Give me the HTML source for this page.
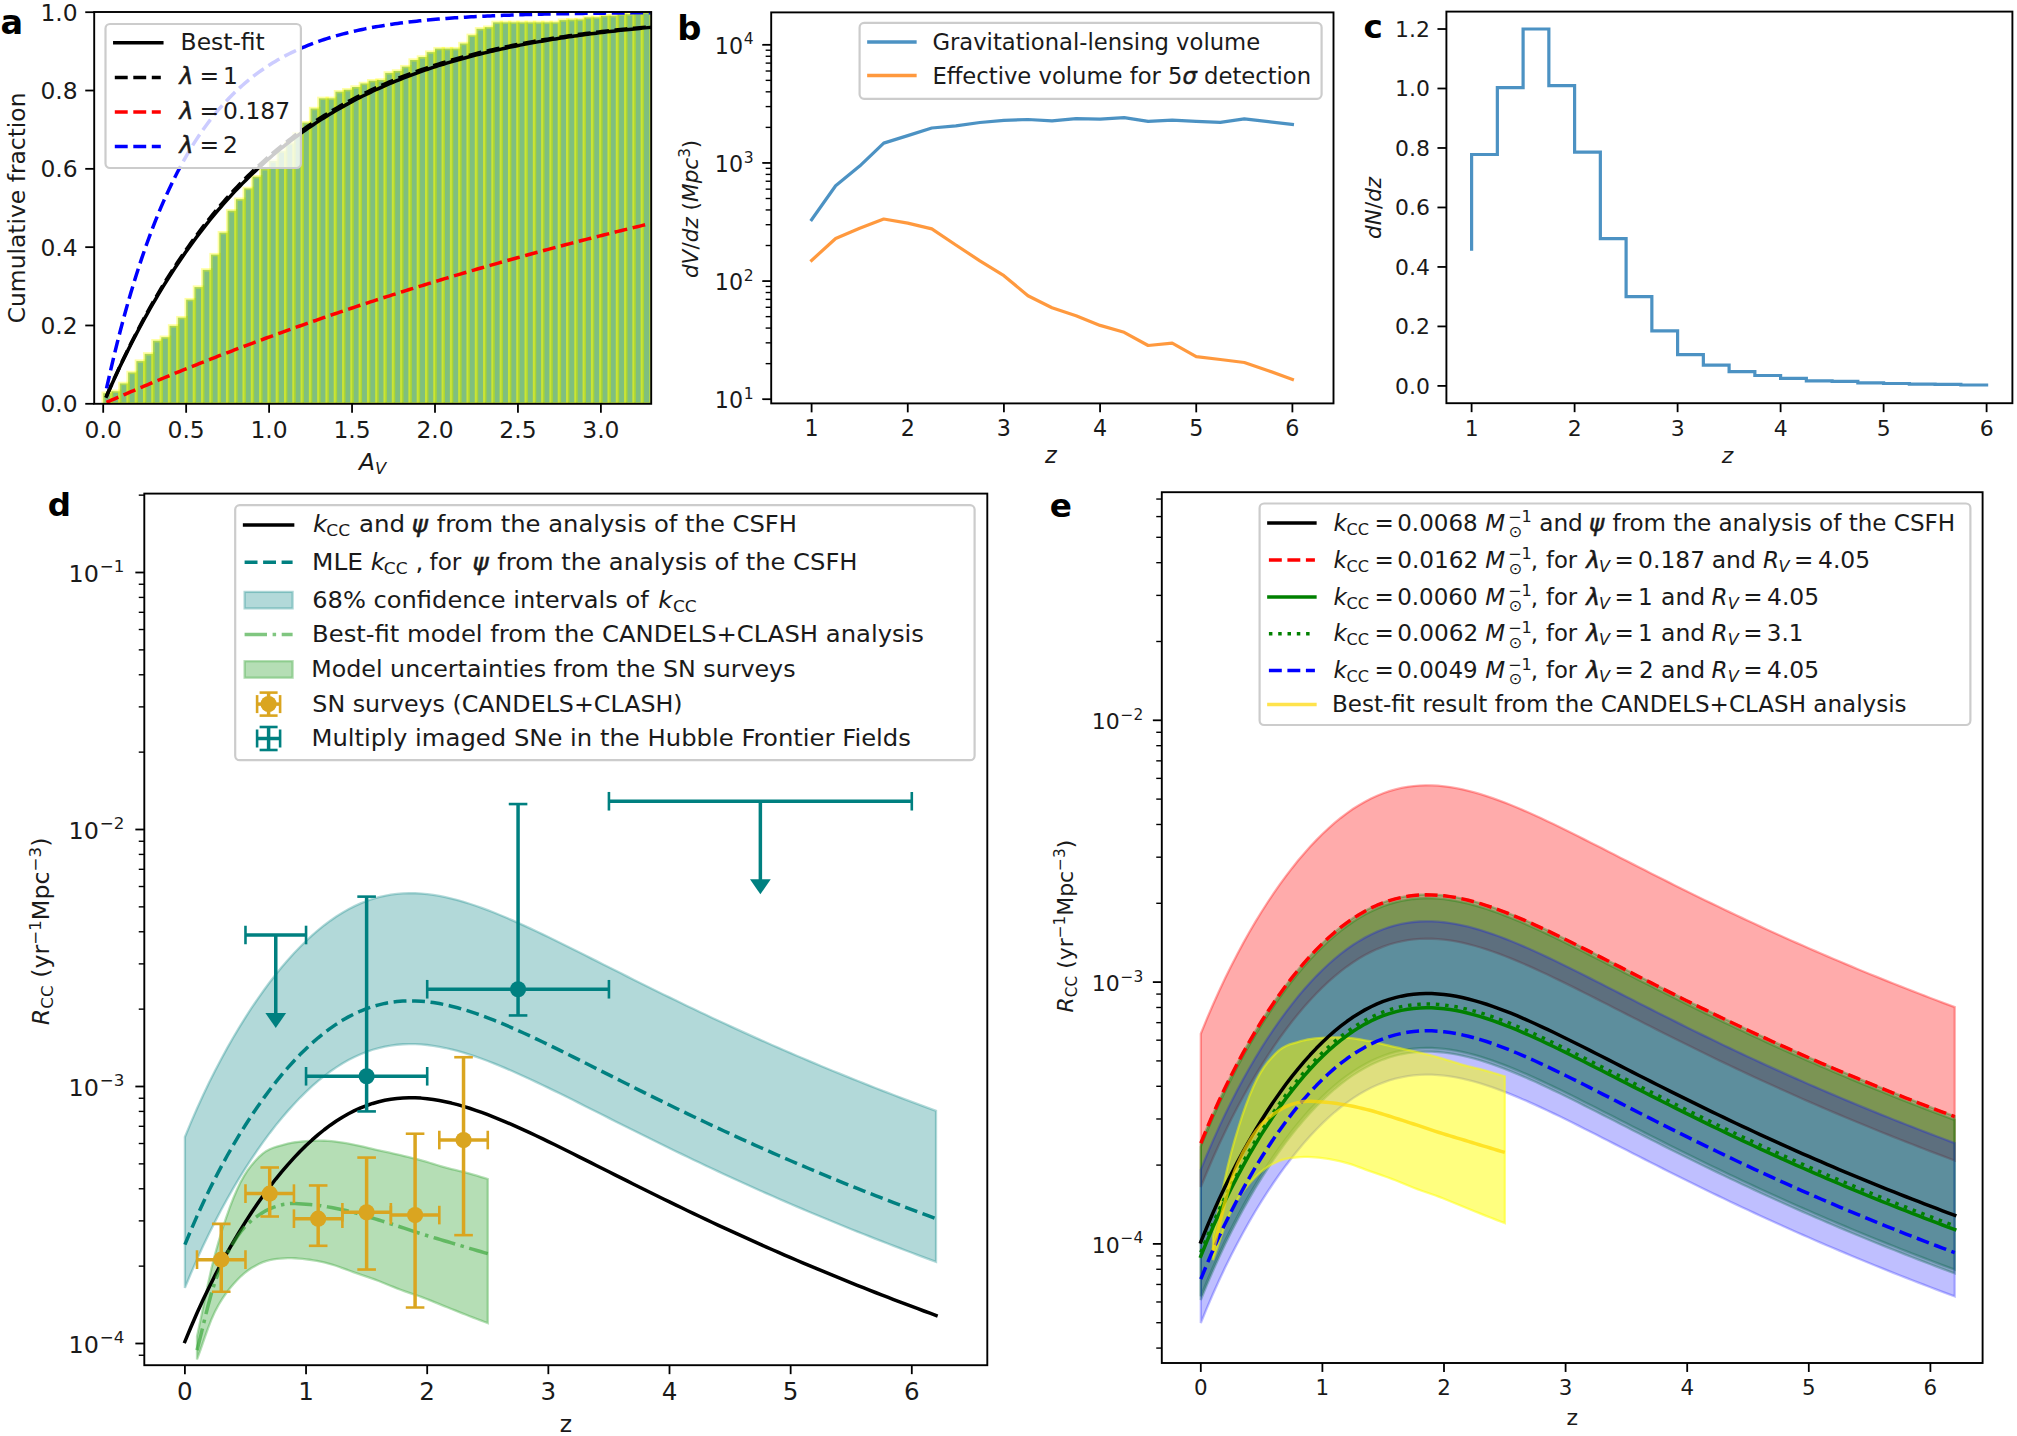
<!DOCTYPE html><html><head><meta charset="utf-8"><title>figure</title><style>html,body{margin:0;padding:0;background:#fff}svg{display:block}</style></head><body>
<svg width="2017" height="1436" viewBox="0 0 2017 1436" font-family='"DejaVu Sans","Liberation Sans",sans-serif'>
<rect width="2017" height="1436" fill="#fff"/>
<clipPath id="ca"><rect x="94.2" y="12" width="557" height="391.8"/></clipPath>
<g clip-path="url(#ca)">
<rect x="103.2" y="393.23" width="8.3" height="10.57" fill="#008000" fill-opacity="0.5" stroke="#ffff00" stroke-opacity="0.36" stroke-width="3.4"/>
<rect x="111.5" y="391.27" width="8.3" height="12.53" fill="#008000" fill-opacity="0.5" stroke="#ffff00" stroke-opacity="0.36" stroke-width="3.4"/>
<rect x="119.79" y="383.44" width="8.3" height="20.36" fill="#008000" fill-opacity="0.5" stroke="#ffff00" stroke-opacity="0.36" stroke-width="3.4"/>
<rect x="128.09" y="372.47" width="8.29" height="31.33" fill="#008000" fill-opacity="0.5" stroke="#ffff00" stroke-opacity="0.36" stroke-width="3.4"/>
<rect x="136.38" y="361.12" width="8.3" height="42.68" fill="#008000" fill-opacity="0.5" stroke="#ffff00" stroke-opacity="0.36" stroke-width="3.4"/>
<rect x="144.68" y="353.87" width="8.3" height="49.93" fill="#008000" fill-opacity="0.5" stroke="#ffff00" stroke-opacity="0.36" stroke-width="3.4"/>
<rect x="152.97" y="340.75" width="8.29" height="63.05" fill="#008000" fill-opacity="0.5" stroke="#ffff00" stroke-opacity="0.36" stroke-width="3.4"/>
<rect x="161.27" y="337.23" width="8.29" height="66.57" fill="#008000" fill-opacity="0.5" stroke="#ffff00" stroke-opacity="0.36" stroke-width="3.4"/>
<rect x="169.56" y="325.87" width="8.3" height="77.93" fill="#008000" fill-opacity="0.5" stroke="#ffff00" stroke-opacity="0.36" stroke-width="3.4"/>
<rect x="177.86" y="317.65" width="8.29" height="86.15" fill="#008000" fill-opacity="0.5" stroke="#ffff00" stroke-opacity="0.36" stroke-width="3.4"/>
<rect x="186.15" y="299.63" width="8.29" height="104.17" fill="#008000" fill-opacity="0.5" stroke="#ffff00" stroke-opacity="0.36" stroke-width="3.4"/>
<rect x="194.44" y="287.1" width="8.3" height="116.7" fill="#008000" fill-opacity="0.5" stroke="#ffff00" stroke-opacity="0.36" stroke-width="3.4"/>
<rect x="202.74" y="269.87" width="8.3" height="133.93" fill="#008000" fill-opacity="0.5" stroke="#ffff00" stroke-opacity="0.36" stroke-width="3.4"/>
<rect x="211.04" y="254.6" width="8.29" height="149.2" fill="#008000" fill-opacity="0.5" stroke="#ffff00" stroke-opacity="0.36" stroke-width="3.4"/>
<rect x="219.33" y="232.67" width="8.29" height="171.13" fill="#008000" fill-opacity="0.5" stroke="#ffff00" stroke-opacity="0.36" stroke-width="3.4"/>
<rect x="227.62" y="210.74" width="8.3" height="193.06" fill="#008000" fill-opacity="0.5" stroke="#ffff00" stroke-opacity="0.36" stroke-width="3.4"/>
<rect x="235.92" y="199.19" width="8.3" height="204.61" fill="#008000" fill-opacity="0.5" stroke="#ffff00" stroke-opacity="0.36" stroke-width="3.4"/>
<rect x="244.22" y="188.42" width="8.29" height="215.38" fill="#008000" fill-opacity="0.5" stroke="#ffff00" stroke-opacity="0.36" stroke-width="3.4"/>
<rect x="252.51" y="176.67" width="8.3" height="227.13" fill="#008000" fill-opacity="0.5" stroke="#ffff00" stroke-opacity="0.36" stroke-width="3.4"/>
<rect x="260.81" y="168.84" width="8.3" height="234.96" fill="#008000" fill-opacity="0.5" stroke="#ffff00" stroke-opacity="0.36" stroke-width="3.4"/>
<rect x="269.1" y="161.01" width="8.3" height="242.79" fill="#008000" fill-opacity="0.5" stroke="#ffff00" stroke-opacity="0.36" stroke-width="3.4"/>
<rect x="277.4" y="151.22" width="8.29" height="252.58" fill="#008000" fill-opacity="0.5" stroke="#ffff00" stroke-opacity="0.36" stroke-width="3.4"/>
<rect x="285.69" y="143.39" width="8.3" height="260.41" fill="#008000" fill-opacity="0.5" stroke="#ffff00" stroke-opacity="0.36" stroke-width="3.4"/>
<rect x="293.99" y="133.6" width="8.3" height="270.2" fill="#008000" fill-opacity="0.5" stroke="#ffff00" stroke-opacity="0.36" stroke-width="3.4"/>
<rect x="302.28" y="122.63" width="8.29" height="281.17" fill="#008000" fill-opacity="0.5" stroke="#ffff00" stroke-opacity="0.36" stroke-width="3.4"/>
<rect x="310.57" y="108.53" width="8.3" height="295.27" fill="#008000" fill-opacity="0.5" stroke="#ffff00" stroke-opacity="0.36" stroke-width="3.4"/>
<rect x="318.87" y="98.35" width="8.3" height="305.45" fill="#008000" fill-opacity="0.5" stroke="#ffff00" stroke-opacity="0.36" stroke-width="3.4"/>
<rect x="327.17" y="98.35" width="8.3" height="305.45" fill="#008000" fill-opacity="0.5" stroke="#ffff00" stroke-opacity="0.36" stroke-width="3.4"/>
<rect x="335.46" y="91.69" width="8.3" height="312.11" fill="#008000" fill-opacity="0.5" stroke="#ffff00" stroke-opacity="0.36" stroke-width="3.4"/>
<rect x="343.76" y="89.74" width="8.29" height="314.06" fill="#008000" fill-opacity="0.5" stroke="#ffff00" stroke-opacity="0.36" stroke-width="3.4"/>
<rect x="352.05" y="87" width="8.3" height="316.8" fill="#008000" fill-opacity="0.5" stroke="#ffff00" stroke-opacity="0.36" stroke-width="3.4"/>
<rect x="360.35" y="83.47" width="8.29" height="320.33" fill="#008000" fill-opacity="0.5" stroke="#ffff00" stroke-opacity="0.36" stroke-width="3.4"/>
<rect x="368.64" y="80.73" width="8.3" height="323.07" fill="#008000" fill-opacity="0.5" stroke="#ffff00" stroke-opacity="0.36" stroke-width="3.4"/>
<rect x="376.94" y="79.95" width="8.3" height="323.85" fill="#008000" fill-opacity="0.5" stroke="#ffff00" stroke-opacity="0.36" stroke-width="3.4"/>
<rect x="385.23" y="72.9" width="8.29" height="330.9" fill="#008000" fill-opacity="0.5" stroke="#ffff00" stroke-opacity="0.36" stroke-width="3.4"/>
<rect x="393.52" y="70.94" width="8.3" height="332.86" fill="#008000" fill-opacity="0.5" stroke="#ffff00" stroke-opacity="0.36" stroke-width="3.4"/>
<rect x="401.82" y="66.63" width="8.3" height="337.17" fill="#008000" fill-opacity="0.5" stroke="#ffff00" stroke-opacity="0.36" stroke-width="3.4"/>
<rect x="410.12" y="59.98" width="8.3" height="343.82" fill="#008000" fill-opacity="0.5" stroke="#ffff00" stroke-opacity="0.36" stroke-width="3.4"/>
<rect x="418.41" y="57.04" width="8.3" height="346.76" fill="#008000" fill-opacity="0.5" stroke="#ffff00" stroke-opacity="0.36" stroke-width="3.4"/>
<rect x="426.71" y="52.14" width="8.29" height="351.66" fill="#008000" fill-opacity="0.5" stroke="#ffff00" stroke-opacity="0.36" stroke-width="3.4"/>
<rect x="435" y="48.62" width="8.3" height="355.18" fill="#008000" fill-opacity="0.5" stroke="#ffff00" stroke-opacity="0.36" stroke-width="3.4"/>
<rect x="443.3" y="48.62" width="8.29" height="355.18" fill="#008000" fill-opacity="0.5" stroke="#ffff00" stroke-opacity="0.36" stroke-width="3.4"/>
<rect x="451.59" y="48.62" width="8.29" height="355.18" fill="#008000" fill-opacity="0.5" stroke="#ffff00" stroke-opacity="0.36" stroke-width="3.4"/>
<rect x="459.88" y="43.53" width="8.3" height="360.27" fill="#008000" fill-opacity="0.5" stroke="#ffff00" stroke-opacity="0.36" stroke-width="3.4"/>
<rect x="468.18" y="35.3" width="8.3" height="368.5" fill="#008000" fill-opacity="0.5" stroke="#ffff00" stroke-opacity="0.36" stroke-width="3.4"/>
<rect x="476.48" y="28.8" width="8.3" height="375" fill="#008000" fill-opacity="0.5" stroke="#ffff00" stroke-opacity="0.36" stroke-width="3.4"/>
<rect x="484.77" y="27.2" width="8.29" height="376.6" fill="#008000" fill-opacity="0.5" stroke="#ffff00" stroke-opacity="0.36" stroke-width="3.4"/>
<rect x="493.06" y="22.38" width="8.3" height="381.42" fill="#008000" fill-opacity="0.5" stroke="#ffff00" stroke-opacity="0.36" stroke-width="3.4"/>
<rect x="501.36" y="22.38" width="8.29" height="381.42" fill="#008000" fill-opacity="0.5" stroke="#ffff00" stroke-opacity="0.36" stroke-width="3.4"/>
<rect x="509.66" y="22.38" width="8.3" height="381.42" fill="#008000" fill-opacity="0.5" stroke="#ffff00" stroke-opacity="0.36" stroke-width="3.4"/>
<rect x="517.95" y="22.38" width="8.3" height="381.42" fill="#008000" fill-opacity="0.5" stroke="#ffff00" stroke-opacity="0.36" stroke-width="3.4"/>
<rect x="526.25" y="22.38" width="8.29" height="381.42" fill="#008000" fill-opacity="0.5" stroke="#ffff00" stroke-opacity="0.36" stroke-width="3.4"/>
<rect x="534.54" y="22.38" width="8.29" height="381.42" fill="#008000" fill-opacity="0.5" stroke="#ffff00" stroke-opacity="0.36" stroke-width="3.4"/>
<rect x="542.84" y="22.38" width="8.3" height="381.42" fill="#008000" fill-opacity="0.5" stroke="#ffff00" stroke-opacity="0.36" stroke-width="3.4"/>
<rect x="551.13" y="22.38" width="8.29" height="381.42" fill="#008000" fill-opacity="0.5" stroke="#ffff00" stroke-opacity="0.36" stroke-width="3.4"/>
<rect x="559.43" y="20.11" width="8.29" height="383.69" fill="#008000" fill-opacity="0.5" stroke="#ffff00" stroke-opacity="0.36" stroke-width="3.4"/>
<rect x="567.72" y="19.64" width="8.3" height="384.16" fill="#008000" fill-opacity="0.5" stroke="#ffff00" stroke-opacity="0.36" stroke-width="3.4"/>
<rect x="576.02" y="19.44" width="8.29" height="384.36" fill="#008000" fill-opacity="0.5" stroke="#ffff00" stroke-opacity="0.36" stroke-width="3.4"/>
<rect x="584.31" y="17.37" width="8.29" height="386.43" fill="#008000" fill-opacity="0.5" stroke="#ffff00" stroke-opacity="0.36" stroke-width="3.4"/>
<rect x="592.61" y="17.37" width="8.3" height="386.43" fill="#008000" fill-opacity="0.5" stroke="#ffff00" stroke-opacity="0.36" stroke-width="3.4"/>
<rect x="600.9" y="15.72" width="8.29" height="388.08" fill="#008000" fill-opacity="0.5" stroke="#ffff00" stroke-opacity="0.36" stroke-width="3.4"/>
<rect x="609.2" y="15.72" width="8.3" height="388.08" fill="#008000" fill-opacity="0.5" stroke="#ffff00" stroke-opacity="0.36" stroke-width="3.4"/>
<rect x="617.49" y="14.16" width="8.29" height="389.64" fill="#008000" fill-opacity="0.5" stroke="#ffff00" stroke-opacity="0.36" stroke-width="3.4"/>
<rect x="625.79" y="14.16" width="8.29" height="389.64" fill="#008000" fill-opacity="0.5" stroke="#ffff00" stroke-opacity="0.36" stroke-width="3.4"/>
<rect x="634.08" y="12.98" width="8.3" height="390.82" fill="#008000" fill-opacity="0.5" stroke="#ffff00" stroke-opacity="0.36" stroke-width="3.4"/>
<rect x="642.38" y="12.2" width="8.29" height="391.6" fill="#008000" fill-opacity="0.5" stroke="#ffff00" stroke-opacity="0.36" stroke-width="3.4"/>
<polyline fill="none" stroke="#000" stroke-width="3.5" stroke-linecap="square" stroke-linejoin="round"  points="106.52,396.16 109.24,390.01 111.96,383.95 114.68,378 117.4,372.14 120.12,366.37 122.84,360.69 125.56,355.11 128.28,349.61 131,344.21 133.73,338.89 136.45,333.65 139.17,328.5 141.89,323.43 144.61,318.44 147.33,313.54 150.05,308.71 152.77,303.96 155.49,299.28 158.21,294.68 160.93,290.16 163.65,285.7 166.37,281.32 169.1,277.01 171.82,272.76 174.54,268.59 177.26,264.48 179.98,260.44 182.7,256.46 185.42,252.54 188.14,248.69 190.86,244.9 193.58,241.18 196.3,237.51 199.02,233.9 201.74,230.34 204.47,226.85 207.19,223.41 209.91,220.02 212.63,216.69 215.35,213.42 218.07,210.19 220.79,207.02 223.51,203.9 226.23,200.83 228.95,197.8 231.67,194.83 234.39,191.9 237.11,189.02 239.84,186.19 242.56,183.4 245.28,180.66 248,177.96 250.72,175.3 253.44,172.69 256.16,170.12 258.88,167.59 261.6,165.1 264.32,162.65 267.04,160.24 269.76,157.86 272.48,155.53 275.21,153.23 277.93,150.97 280.65,148.75 283.37,146.56 286.09,144.41 288.81,142.29 291.53,140.2 294.25,138.15 296.97,136.14 299.69,134.15 302.41,132.2 305.13,130.27 307.85,128.38 310.57,126.52 313.3,124.69 316.02,122.88 318.74,121.11 321.46,119.37 324.18,117.65 326.9,115.96 329.62,114.3 332.34,112.66 335.06,111.05 337.78,109.47 340.5,107.91 343.22,106.37 345.94,104.86 348.67,103.38 351.39,101.92 354.11,100.48 356.83,99.07 359.55,97.67 362.27,96.3 364.99,94.96 367.71,93.63 370.43,92.33 373.15,91.04 375.87,89.78 378.59,88.54 381.31,87.31 384.04,86.11 386.76,84.92 389.48,83.76 392.2,82.61 394.92,81.48 397.64,80.37 400.36,79.28 403.08,78.21 405.8,77.15 408.52,76.11 411.24,75.08 413.96,74.08 416.68,73.08 419.41,72.11 422.13,71.15 424.85,70.2 427.57,69.28 430.29,68.36 433.01,67.46 435.73,66.58 438.45,65.7 441.17,64.85 443.89,64 446.61,63.17 449.33,62.36 452.05,61.55 454.78,60.76 457.5,59.98 460.22,59.22 462.94,58.46 465.66,57.72 468.38,56.99 471.1,56.28 473.82,55.57 476.54,54.87 479.26,54.19 481.98,53.52 484.7,52.86 487.42,52.2 490.15,51.56 492.87,50.93 495.59,50.31 498.31,49.7 501.03,49.1 503.75,48.51 506.47,47.93 509.19,47.35 511.91,46.79 514.63,46.24 517.35,45.69 520.07,45.15 522.79,44.63 525.52,44.11 528.24,43.6 530.96,43.09 533.68,42.6 536.4,42.11 539.12,41.63 541.84,41.16 544.56,40.7 547.28,40.24 550,39.79 552.72,39.35 555.44,38.91 558.16,38.48 560.88,38.06 563.61,37.65 566.33,37.24 569.05,36.84 571.77,36.44 574.49,36.06 577.21,35.67 579.93,35.3 582.65,34.93 585.37,34.56 588.09,34.21 590.81,33.85 593.53,33.51 596.25,33.16 598.98,32.83 601.7,32.5 604.42,32.17 607.14,31.85 609.86,31.54 612.58,31.23 615.3,30.92 618.02,30.62 620.74,30.33 623.46,30.04 626.18,29.75 628.9,29.47 631.62,29.19 634.35,28.92 637.07,28.65 639.79,28.39 642.51,28.13 645.23,27.87 647.95,27.62 650.67,27.38"/>
<polyline fill="none" stroke="#000" stroke-width="3.5" stroke-linecap="butt" stroke-linejoin="round" stroke-dasharray="12.9 5.6"  points="106.52,396.05 109.24,389.8 111.96,383.66 114.68,377.62 117.4,371.67 120.12,365.83 122.84,360.07 125.56,354.42 128.28,348.85 131,343.37 133.73,337.99 136.45,332.69 139.17,327.47 141.89,322.35 144.61,317.3 147.33,312.34 150.05,307.46 152.77,302.65 155.49,297.93 158.21,293.28 160.93,288.71 163.65,284.21 166.37,279.79 169.1,275.43 171.82,271.15 174.54,266.94 177.26,262.8 179.98,258.72 182.7,254.71 185.42,250.76 188.14,246.88 190.86,243.07 193.58,239.31 196.3,235.62 199.02,231.98 201.74,228.41 204.47,224.89 207.19,221.43 209.91,218.03 212.63,214.68 215.35,211.39 218.07,208.15 220.79,204.96 223.51,201.82 226.23,198.74 228.95,195.7 231.67,192.72 234.39,189.78 237.11,186.89 239.84,184.05 242.56,181.26 245.28,178.51 248,175.8 250.72,173.14 253.44,170.52 256.16,167.95 258.88,165.41 261.6,162.92 264.32,160.47 267.04,158.06 269.76,155.69 272.48,153.35 275.21,151.06 277.93,148.8 280.65,146.58 283.37,144.39 286.09,142.24 288.81,140.12 291.53,138.04 294.25,136 296.97,133.98 299.69,132 302.41,130.05 305.13,128.14 307.85,126.25 310.57,124.4 313.3,122.57 316.02,120.77 318.74,119.01 321.46,117.27 324.18,115.56 326.9,113.88 329.62,112.23 332.34,110.6 335.06,109 337.78,107.42 340.5,105.88 343.22,104.35 345.94,102.85 348.67,101.38 351.39,99.93 354.11,98.5 356.83,97.1 359.55,95.72 362.27,94.36 364.99,93.02 367.71,91.71 370.43,90.41 373.15,89.14 375.87,87.89 378.59,86.66 381.31,85.45 384.04,84.26 386.76,83.08 389.48,81.93 392.2,80.8 394.92,79.68 397.64,78.58 400.36,77.5 403.08,76.44 405.8,75.4 408.52,74.37 411.24,73.36 413.96,72.36 416.68,71.38 419.41,70.42 422.13,69.47 424.85,68.54 427.57,67.63 430.29,66.72 433.01,65.84 435.73,64.96 438.45,64.11 441.17,63.26 443.89,62.43 446.61,61.61 449.33,60.81 452.05,60.02 454.78,59.24 457.5,58.48 460.22,57.72 462.94,56.98 465.66,56.26 468.38,55.54 471.1,54.83 473.82,54.14 476.54,53.46 479.26,52.79 481.98,52.13 484.7,51.48 487.42,50.84 490.15,50.21 492.87,49.59 495.59,48.98 498.31,48.38 501.03,47.8 503.75,47.22 506.47,46.65 509.19,46.09 511.91,45.54 514.63,44.99 517.35,44.46 520.07,43.94 522.79,43.42 525.52,42.91 528.24,42.41 530.96,41.92 533.68,41.44 536.4,40.96 539.12,40.49 541.84,40.03 544.56,39.58 547.28,39.14 550,38.7 552.72,38.27 555.44,37.84 558.16,37.43 560.88,37.01 563.61,36.61 566.33,36.21 569.05,35.82 571.77,35.44 574.49,35.06 577.21,34.69 579.93,34.32 582.65,33.96 585.37,33.61 588.09,33.26 590.81,32.92 593.53,32.58 596.25,32.25 598.98,31.92 601.7,31.6 604.42,31.29 607.14,30.98 609.86,30.67 612.58,30.37 615.3,30.08 618.02,29.78 620.74,29.5 623.46,29.22 626.18,28.94 628.9,28.67 631.62,28.4 634.35,28.14 637.07,27.88 639.79,27.62 642.51,27.37 645.23,27.13 647.95,26.88 650.67,26.64"/>
<polyline fill="none" stroke="#ff0000" stroke-width="3.5" stroke-linecap="butt" stroke-linejoin="round" stroke-dasharray="12.9 5.6"  points="106.52,402.34 109.24,401.14 111.96,399.95 114.68,398.77 117.4,397.58 120.12,396.4 122.84,395.22 125.56,394.05 128.28,392.88 131,391.72 133.73,390.56 136.45,389.4 139.17,388.24 141.89,387.09 144.61,385.94 147.33,384.8 150.05,383.66 152.77,382.52 155.49,381.39 158.21,380.25 160.93,379.13 163.65,378 166.37,376.88 169.1,375.77 171.82,374.65 174.54,373.54 177.26,372.44 179.98,371.33 182.7,370.23 185.42,369.14 188.14,368.05 190.86,366.96 193.58,365.87 196.3,364.79 199.02,363.71 201.74,362.63 204.47,361.56 207.19,360.49 209.91,359.42 212.63,358.36 215.35,357.3 218.07,356.24 220.79,355.19 223.51,354.14 226.23,353.09 228.95,352.05 231.67,351.01 234.39,349.97 237.11,348.93 239.84,347.9 242.56,346.88 245.28,345.85 248,344.83 250.72,343.81 253.44,342.79 256.16,341.78 258.88,340.77 261.6,339.77 264.32,338.76 267.04,337.76 269.76,336.77 272.48,335.77 275.21,334.78 277.93,333.79 280.65,332.81 283.37,331.83 286.09,330.85 288.81,329.87 291.53,328.9 294.25,327.93 296.97,326.96 299.69,326 302.41,325.04 305.13,324.08 307.85,323.13 310.57,322.17 313.3,321.23 316.02,320.28 318.74,319.34 321.46,318.4 324.18,317.46 326.9,316.52 329.62,315.59 332.34,314.66 335.06,313.74 337.78,312.81 340.5,311.89 343.22,310.97 345.94,310.06 348.67,309.15 351.39,308.24 354.11,307.33 356.83,306.43 359.55,305.53 362.27,304.63 364.99,303.73 367.71,302.84 370.43,301.95 373.15,301.06 375.87,300.18 378.59,299.3 381.31,298.42 384.04,297.54 386.76,296.67 389.48,295.8 392.2,294.93 394.92,294.06 397.64,293.2 400.36,292.34 403.08,291.48 405.8,290.63 408.52,289.77 411.24,288.92 413.96,288.08 416.68,287.23 419.41,286.39 422.13,285.55 424.85,284.71 427.57,283.88 430.29,283.05 433.01,282.22 435.73,281.39 438.45,280.57 441.17,279.74 443.89,278.92 446.61,278.11 449.33,277.29 452.05,276.48 454.78,275.67 457.5,274.87 460.22,274.06 462.94,273.26 465.66,272.46 468.38,271.66 471.1,270.87 473.82,270.08 476.54,269.29 479.26,268.5 481.98,267.72 484.7,266.93 487.42,266.15 490.15,265.38 492.87,264.6 495.59,263.83 498.31,263.06 501.03,262.29 503.75,261.52 506.47,260.76 509.19,260 511.91,259.24 514.63,258.48 517.35,257.73 520.07,256.98 522.79,256.23 525.52,255.48 528.24,254.74 530.96,253.99 533.68,253.25 536.4,252.51 539.12,251.78 541.84,251.04 544.56,250.31 547.28,249.58 550,248.86 552.72,248.13 555.44,247.41 558.16,246.69 560.88,245.97 563.61,245.26 566.33,244.54 569.05,243.83 571.77,243.12 574.49,242.41 577.21,241.71 579.93,241.01 582.65,240.31 585.37,239.61 588.09,238.91 590.81,238.22 593.53,237.52 596.25,236.84 598.98,236.15 601.7,235.46 604.42,234.78 607.14,234.1 609.86,233.42 612.58,232.74 615.3,232.06 618.02,231.39 620.74,230.72 623.46,230.05 626.18,229.38 628.9,228.72 631.62,228.06 634.35,227.39 637.07,226.74 639.79,226.08 642.51,225.42 645.23,224.77 647.95,224.12 650.67,223.47"/>
<polyline fill="none" stroke="#0000ff" stroke-width="3.5" stroke-linecap="butt" stroke-linejoin="round" stroke-dasharray="12.9 5.6"  points="106.52,388.45 109.24,376.3 111.96,364.56 114.68,353.19 117.4,342.18 120.12,331.54 122.84,321.23 125.56,311.26 128.28,301.61 131,292.27 133.73,283.23 136.45,274.49 139.17,266.02 141.89,257.83 144.61,249.91 147.33,242.24 150.05,234.81 152.77,227.63 155.49,220.68 158.21,213.95 160.93,207.44 163.65,201.14 166.37,195.05 169.1,189.15 171.82,183.44 174.54,177.91 177.26,172.56 179.98,167.39 182.7,162.38 185.42,157.53 188.14,152.85 190.86,148.31 193.58,143.92 196.3,139.66 199.02,135.55 201.74,131.57 204.47,127.72 207.19,123.99 209.91,120.38 212.63,116.89 215.35,113.52 218.07,110.25 220.79,107.08 223.51,104.02 226.23,101.06 228.95,98.19 231.67,95.42 234.39,92.73 237.11,90.13 239.84,87.62 242.56,85.18 245.28,82.83 248,80.55 250.72,78.34 253.44,76.21 256.16,74.14 258.88,72.15 261.6,70.21 264.32,68.34 267.04,66.53 269.76,64.78 272.48,63.08 275.21,61.44 277.93,59.85 280.65,58.31 283.37,56.82 286.09,55.38 288.81,53.99 291.53,52.64 294.25,51.34 296.97,50.07 299.69,48.85 302.41,47.67 305.13,46.52 307.85,45.42 310.57,44.34 313.3,43.31 316.02,42.3 318.74,41.33 321.46,40.39 324.18,39.48 326.9,38.6 329.62,37.75 332.34,36.93 335.06,36.13 337.78,35.36 340.5,34.61 343.22,33.89 345.94,33.19 348.67,32.51 351.39,31.85 354.11,31.22 356.83,30.61 359.55,30.01 362.27,29.44 364.99,28.88 367.71,28.34 370.43,27.82 373.15,27.32 375.87,26.83 378.59,26.36 381.31,25.9 384.04,25.46 386.76,25.03 389.48,24.62 392.2,24.22 394.92,23.83 397.64,23.45 400.36,23.09 403.08,22.74 405.8,22.4 408.52,22.07 411.24,21.75 413.96,21.44 416.68,21.14 419.41,20.86 422.13,20.58 424.85,20.31 427.57,20.04 430.29,19.79 433.01,19.55 435.73,19.31 438.45,19.08 441.17,18.86 443.89,18.64 446.61,18.44 449.33,18.23 452.05,18.04 454.78,17.85 457.5,17.67 460.22,17.49 462.94,17.32 465.66,17.16 468.38,17 471.1,16.84 473.82,16.69 476.54,16.55 479.26,16.41 481.98,16.27 484.7,16.14 487.42,16.01 490.15,15.89 492.87,15.77 495.59,15.66 498.31,15.54 501.03,15.44 503.75,15.33 506.47,15.23 509.19,15.13 511.91,15.04 514.63,14.95 517.35,14.86 520.07,14.77 522.79,14.69 525.52,14.61 528.24,14.53 530.96,14.46 533.68,14.38 536.4,14.31 539.12,14.24 541.84,14.18 544.56,14.11 547.28,14.05 550,13.99 552.72,13.94 555.44,13.88 558.16,13.82 560.88,13.77 563.61,13.72 566.33,13.67 569.05,13.63 571.77,13.58 574.49,13.53 577.21,13.49 579.93,13.45 582.65,13.41 585.37,13.37 588.09,13.33 590.81,13.3 593.53,13.26 596.25,13.23 598.98,13.19 601.7,13.16 604.42,13.13 607.14,13.1 609.86,13.07 612.58,13.04 615.3,13.02 618.02,12.99 620.74,12.96 623.46,12.94 626.18,12.92 628.9,12.89 631.62,12.87 634.35,12.85 637.07,12.83 639.79,12.81 642.51,12.79 645.23,12.77 647.95,12.75 650.67,12.73"/>
</g>
<rect x="94.2" y="12" width="557" height="391.8" fill="none" stroke="#000" stroke-width="1.9"/>
<line x1="103.2" y1="403.8" x2="103.2" y2="412.75" stroke="#000" stroke-width="1.8" />
<text x="103.2" y="437.68" font-size="23.4" text-anchor="middle" fill="#1a1a1a" >0.0</text>
<line x1="186.15" y1="403.8" x2="186.15" y2="412.75" stroke="#000" stroke-width="1.8" />
<text x="186.15" y="437.68" font-size="23.4" text-anchor="middle" fill="#1a1a1a" >0.5</text>
<line x1="269.1" y1="403.8" x2="269.1" y2="412.75" stroke="#000" stroke-width="1.8" />
<text x="269.1" y="437.68" font-size="23.4" text-anchor="middle" fill="#1a1a1a" >1.0</text>
<line x1="352.05" y1="403.8" x2="352.05" y2="412.75" stroke="#000" stroke-width="1.8" />
<text x="352.05" y="437.68" font-size="23.4" text-anchor="middle" fill="#1a1a1a" >1.5</text>
<line x1="435" y1="403.8" x2="435" y2="412.75" stroke="#000" stroke-width="1.8" />
<text x="435" y="437.68" font-size="23.4" text-anchor="middle" fill="#1a1a1a" >2.0</text>
<line x1="517.95" y1="403.8" x2="517.95" y2="412.75" stroke="#000" stroke-width="1.8" />
<text x="517.95" y="437.68" font-size="23.4" text-anchor="middle" fill="#1a1a1a" >2.5</text>
<line x1="600.9" y1="403.8" x2="600.9" y2="412.75" stroke="#000" stroke-width="1.8" />
<text x="600.9" y="437.68" font-size="23.4" text-anchor="middle" fill="#1a1a1a" >3.0</text>
<line x1="85.25" y1="403.8" x2="94.2" y2="403.8" stroke="#000" stroke-width="1.8" />
<text x="77.7" y="412.34" font-size="23.4" text-anchor="end" fill="#1a1a1a" >0.0</text>
<line x1="85.25" y1="325.48" x2="94.2" y2="325.48" stroke="#000" stroke-width="1.8" />
<text x="77.7" y="334.02" font-size="23.4" text-anchor="end" fill="#1a1a1a" >0.2</text>
<line x1="85.25" y1="247.16" x2="94.2" y2="247.16" stroke="#000" stroke-width="1.8" />
<text x="77.7" y="255.7" font-size="23.4" text-anchor="end" fill="#1a1a1a" >0.4</text>
<line x1="85.25" y1="168.84" x2="94.2" y2="168.84" stroke="#000" stroke-width="1.8" />
<text x="77.7" y="177.38" font-size="23.4" text-anchor="end" fill="#1a1a1a" >0.6</text>
<line x1="85.25" y1="90.52" x2="94.2" y2="90.52" stroke="#000" stroke-width="1.8" />
<text x="77.7" y="99.06" font-size="23.4" text-anchor="end" fill="#1a1a1a" >0.8</text>
<line x1="85.25" y1="12.2" x2="94.2" y2="12.2" stroke="#000" stroke-width="1.8" />
<text x="77.7" y="20.74" font-size="23.4" text-anchor="end" fill="#1a1a1a" >1.0</text>
<text x="372.7" y="469.5" font-size="23.4" text-anchor="middle" fill="#1a1a1a"><tspan font-style="italic">A</tspan><tspan font-style="italic" font-size="16.38" dy="4">V</tspan></text>
<text transform="translate(25,207.9) rotate(-90)" font-size="23.4" text-anchor="middle" fill="#1a1a1a">Cumulative fraction</text>
<rect x="105.5" y="24" width="195.4" height="144" rx="4.5" ry="4.5" fill="#fff" fill-opacity="0.8" stroke="#ccc" stroke-width="2.2"/>
<line x1="114.8" y1="42.8" x2="161.8" y2="42.8" stroke="#000" stroke-width="3.5" stroke-linecap="square"/>
<line x1="114.8" y1="77.4" x2="160.8" y2="77.4" stroke="#000" stroke-width="3.5" stroke-dasharray="12.9 5.6"/>
<line x1="114.8" y1="112" x2="160.8" y2="112" stroke="#ff0000" stroke-width="3.5" stroke-dasharray="12.9 5.6"/>
<line x1="114.8" y1="146.6" x2="160.8" y2="146.6" stroke="#0000ff" stroke-width="3.5" stroke-dasharray="12.9 5.6"/>
<text x="180.6" y="49.7" font-size="23.4" text-anchor="start" fill="#1a1a1a" >Best-fit</text>
<text y="84.1" font-size="23.4" fill="#1a1a1a"><tspan x="179.5" font-style="italic" stroke="#1a1a1a" stroke-width="0.55">λ</tspan><tspan x="199.4">=</tspan><tspan x="223.1">1</tspan></text>
<text y="118.7" font-size="23.4" fill="#1a1a1a"><tspan x="179.5" font-style="italic" stroke="#1a1a1a" stroke-width="0.55">λ</tspan><tspan x="199.4">=</tspan><tspan x="223.1">0.187</tspan></text>
<text y="153.3" font-size="23.4" fill="#1a1a1a"><tspan x="179.5" font-style="italic" stroke="#1a1a1a" stroke-width="0.55">λ</tspan><tspan x="199.4">=</tspan><tspan x="223.1">2</tspan></text>
<text x="0.4" y="33.8" font-size="33.5" font-weight="bold" fill="#000">a</text>
<rect x="771.2" y="12.4" width="562.3" height="391" fill="none" stroke="#000" stroke-width="1.9"/>
<polyline fill="none" stroke="#1f77b4" stroke-width="3.2" stroke-linecap="square" stroke-linejoin="round" stroke-opacity="0.8"  points="811.6,219.7 835.64,185.8 859.68,166.1 883.72,143.1 907.76,135.6 931.8,128 955.84,125.8 979.88,122.5 1003.92,120.3 1027.96,119.5 1052,120.9 1076.04,118.7 1100.08,119.2 1124.12,117.6 1148.16,121.3 1172.2,120.2 1196.24,121.3 1220.28,122.4 1244.32,118.9 1268.36,121.7 1292.4,124.5"/>
<polyline fill="none" stroke="#ff7f0e" stroke-width="3.2" stroke-linecap="square" stroke-linejoin="round" stroke-opacity="0.8"  points="811.6,260.4 835.64,238.5 859.68,228.2 883.72,219 907.76,223.1 931.8,228.9 955.84,245 979.88,260.8 1003.92,275.7 1027.96,295.7 1052,307.7 1076.04,315.7 1100.08,325.4 1124.12,332.3 1148.16,345.5 1172.2,343.1 1196.24,356.7 1220.28,359.5 1244.32,362.5 1268.36,370.7 1292.4,379.4"/>
<line x1="811.6" y1="403.4" x2="811.6" y2="412.35" stroke="#000" stroke-width="1.8" />
<text x="811.6" y="436.37" font-size="22.2" text-anchor="middle" fill="#1a1a1a" >1</text>
<line x1="907.76" y1="403.4" x2="907.76" y2="412.35" stroke="#000" stroke-width="1.8" />
<text x="907.76" y="436.37" font-size="22.2" text-anchor="middle" fill="#1a1a1a" >2</text>
<line x1="1003.92" y1="403.4" x2="1003.92" y2="412.35" stroke="#000" stroke-width="1.8" />
<text x="1003.92" y="436.37" font-size="22.2" text-anchor="middle" fill="#1a1a1a" >3</text>
<line x1="1100.08" y1="403.4" x2="1100.08" y2="412.35" stroke="#000" stroke-width="1.8" />
<text x="1100.08" y="436.37" font-size="22.2" text-anchor="middle" fill="#1a1a1a" >4</text>
<line x1="1196.24" y1="403.4" x2="1196.24" y2="412.35" stroke="#000" stroke-width="1.8" />
<text x="1196.24" y="436.37" font-size="22.2" text-anchor="middle" fill="#1a1a1a" >5</text>
<line x1="1292.4" y1="403.4" x2="1292.4" y2="412.35" stroke="#000" stroke-width="1.8" />
<text x="1292.4" y="436.37" font-size="22.2" text-anchor="middle" fill="#1a1a1a" >6</text>
<line x1="762.25" y1="399.2" x2="771.2" y2="399.2" stroke="#000" stroke-width="1.8" />
<line x1="765.65" y1="363.64" x2="771.2" y2="363.64" stroke="#000" stroke-width="1.4" />
<line x1="765.65" y1="342.84" x2="771.2" y2="342.84" stroke="#000" stroke-width="1.4" />
<line x1="765.65" y1="328.08" x2="771.2" y2="328.08" stroke="#000" stroke-width="1.4" />
<line x1="765.65" y1="316.63" x2="771.2" y2="316.63" stroke="#000" stroke-width="1.4" />
<line x1="765.65" y1="307.28" x2="771.2" y2="307.28" stroke="#000" stroke-width="1.4" />
<line x1="765.65" y1="299.37" x2="771.2" y2="299.37" stroke="#000" stroke-width="1.4" />
<line x1="765.65" y1="292.52" x2="771.2" y2="292.52" stroke="#000" stroke-width="1.4" />
<line x1="765.65" y1="286.48" x2="771.2" y2="286.48" stroke="#000" stroke-width="1.4" />
<line x1="762.25" y1="281.07" x2="771.2" y2="281.07" stroke="#000" stroke-width="1.8" />
<line x1="765.65" y1="245.51" x2="771.2" y2="245.51" stroke="#000" stroke-width="1.4" />
<line x1="765.65" y1="224.71" x2="771.2" y2="224.71" stroke="#000" stroke-width="1.4" />
<line x1="765.65" y1="209.95" x2="771.2" y2="209.95" stroke="#000" stroke-width="1.4" />
<line x1="765.65" y1="198.5" x2="771.2" y2="198.5" stroke="#000" stroke-width="1.4" />
<line x1="765.65" y1="189.15" x2="771.2" y2="189.15" stroke="#000" stroke-width="1.4" />
<line x1="765.65" y1="181.24" x2="771.2" y2="181.24" stroke="#000" stroke-width="1.4" />
<line x1="765.65" y1="174.39" x2="771.2" y2="174.39" stroke="#000" stroke-width="1.4" />
<line x1="765.65" y1="168.35" x2="771.2" y2="168.35" stroke="#000" stroke-width="1.4" />
<line x1="762.25" y1="162.94" x2="771.2" y2="162.94" stroke="#000" stroke-width="1.8" />
<line x1="765.65" y1="127.38" x2="771.2" y2="127.38" stroke="#000" stroke-width="1.4" />
<line x1="765.65" y1="106.58" x2="771.2" y2="106.58" stroke="#000" stroke-width="1.4" />
<line x1="765.65" y1="91.82" x2="771.2" y2="91.82" stroke="#000" stroke-width="1.4" />
<line x1="765.65" y1="80.37" x2="771.2" y2="80.37" stroke="#000" stroke-width="1.4" />
<line x1="765.65" y1="71.02" x2="771.2" y2="71.02" stroke="#000" stroke-width="1.4" />
<line x1="765.65" y1="63.11" x2="771.2" y2="63.11" stroke="#000" stroke-width="1.4" />
<line x1="765.65" y1="56.26" x2="771.2" y2="56.26" stroke="#000" stroke-width="1.4" />
<line x1="765.65" y1="50.22" x2="771.2" y2="50.22" stroke="#000" stroke-width="1.4" />
<line x1="762.25" y1="44.81" x2="771.2" y2="44.81" stroke="#000" stroke-width="1.8" />
<text transform="translate(753.7,408.08) scale(1.0000,1)" font-size="22.2" text-anchor="end" fill="#1a1a1a">10<tspan font-size="15.54" dy="-9.32" dx="0.8">1</tspan></text>
<text transform="translate(753.7,289.95) scale(1.0000,1)" font-size="22.2" text-anchor="end" fill="#1a1a1a">10<tspan font-size="15.54" dy="-9.32" dx="0.8">2</tspan></text>
<text transform="translate(753.7,171.82) scale(1.0000,1)" font-size="22.2" text-anchor="end" fill="#1a1a1a">10<tspan font-size="15.54" dy="-9.32" dx="0.8">3</tspan></text>
<text transform="translate(753.7,53.69) scale(1.0000,1)" font-size="22.2" text-anchor="end" fill="#1a1a1a">10<tspan font-size="15.54" dy="-9.32" dx="0.8">4</tspan></text>
<text x="1050.85" y="463" font-size="22.3" text-anchor="middle" font-style="italic" fill="#1a1a1a">z</text>
<text transform="translate(697.5,208.9) rotate(-90)" font-size="21.6" text-anchor="middle" fill="#1a1a1a"><tspan font-style="italic">dV</tspan>/<tspan font-style="italic">dz</tspan> (<tspan font-style="italic">Mpc</tspan><tspan font-size="15.12" dy="-7.5">3</tspan><tspan dy="7.5">)</tspan></text>
<rect x="859.6" y="22.9" width="462" height="75.9" rx="4.5" ry="4.5" fill="#fff" fill-opacity="0.8" stroke="#ccc" stroke-width="2.2"/>
<line x1="868.9" y1="42.1" x2="914.9" y2="42.1" stroke="#1f77b4" stroke-width="3.5" stroke-opacity="0.8" stroke-linecap="square"/>
<line x1="868.9" y1="75.6" x2="914.9" y2="75.6" stroke="#ff7f0e" stroke-width="3.5" stroke-opacity="0.8" stroke-linecap="square"/>
<text transform="translate(932.4,50.3) scale(0.9690,1)" font-size="23.4" text-anchor="start" fill="#1a1a1a" >Gravitational-lensing volume</text>
<text transform="translate(932.4,83.8) scale(0.9690,1)" font-size="23.4" text-anchor="start" fill="#1a1a1a" >Effective volume for 5<tspan font-style="italic" stroke="#1a1a1a" stroke-width="0.55">σ</tspan> detection</text>
<text x="677.3" y="40.4" font-size="33.8" font-weight="bold" fill="#000">b</text>
<rect x="1446.4" y="11.6" width="566" height="391.6" fill="none" stroke="#000" stroke-width="1.9"/>
<polyline fill="none" stroke="#1f77b4" stroke-width="3.2" stroke-linecap="square" stroke-linejoin="miter" stroke-opacity="0.8"  points="1471.6,249.1 1471.6,154.52 1497.35,154.52 1497.35,87.61 1523.1,87.61 1523.1,29.02 1548.85,29.02 1548.85,85.53 1574.6,85.53 1574.6,152.14 1600.35,152.14 1600.35,238.69 1626.1,238.69 1626.1,296.68 1651.85,296.68 1651.85,330.88 1677.6,330.88 1677.6,354.67 1703.35,354.67 1703.35,365.08 1729.1,365.08 1729.1,371.62 1754.85,371.62 1754.85,375.49 1780.6,375.49 1780.6,378.46 1806.35,378.46 1806.35,380.84 1832.1,380.84 1832.1,381.44 1857.85,381.44 1857.85,382.93 1883.6,382.93 1883.6,383.52 1909.35,383.52 1909.35,384.12 1935.1,384.12 1935.1,384.41 1960.85,384.41 1960.85,385.01 1986.6,385.01"/>
<line x1="1471.6" y1="403.2" x2="1471.6" y2="412.15" stroke="#000" stroke-width="1.8" />
<text x="1471.6" y="435.94" font-size="21.9" text-anchor="middle" fill="#1a1a1a" >1</text>
<line x1="1574.6" y1="403.2" x2="1574.6" y2="412.15" stroke="#000" stroke-width="1.8" />
<text x="1574.6" y="435.94" font-size="21.9" text-anchor="middle" fill="#1a1a1a" >2</text>
<line x1="1677.6" y1="403.2" x2="1677.6" y2="412.15" stroke="#000" stroke-width="1.8" />
<text x="1677.6" y="435.94" font-size="21.9" text-anchor="middle" fill="#1a1a1a" >3</text>
<line x1="1780.6" y1="403.2" x2="1780.6" y2="412.15" stroke="#000" stroke-width="1.8" />
<text x="1780.6" y="435.94" font-size="21.9" text-anchor="middle" fill="#1a1a1a" >4</text>
<line x1="1883.6" y1="403.2" x2="1883.6" y2="412.15" stroke="#000" stroke-width="1.8" />
<text x="1883.6" y="435.94" font-size="21.9" text-anchor="middle" fill="#1a1a1a" >5</text>
<line x1="1986.6" y1="403.2" x2="1986.6" y2="412.15" stroke="#000" stroke-width="1.8" />
<text x="1986.6" y="435.94" font-size="21.9" text-anchor="middle" fill="#1a1a1a" >6</text>
<line x1="1437.45" y1="385.9" x2="1446.4" y2="385.9" stroke="#000" stroke-width="1.8" />
<text x="1429.9" y="393.89" font-size="21.9" text-anchor="end" fill="#1a1a1a" >0.0</text>
<line x1="1437.45" y1="326.42" x2="1446.4" y2="326.42" stroke="#000" stroke-width="1.8" />
<text x="1429.9" y="334.41" font-size="21.9" text-anchor="end" fill="#1a1a1a" >0.2</text>
<line x1="1437.45" y1="266.94" x2="1446.4" y2="266.94" stroke="#000" stroke-width="1.8" />
<text x="1429.9" y="274.93" font-size="21.9" text-anchor="end" fill="#1a1a1a" >0.4</text>
<line x1="1437.45" y1="207.46" x2="1446.4" y2="207.46" stroke="#000" stroke-width="1.8" />
<text x="1429.9" y="215.45" font-size="21.9" text-anchor="end" fill="#1a1a1a" >0.6</text>
<line x1="1437.45" y1="147.98" x2="1446.4" y2="147.98" stroke="#000" stroke-width="1.8" />
<text x="1429.9" y="155.97" font-size="21.9" text-anchor="end" fill="#1a1a1a" >0.8</text>
<line x1="1437.45" y1="88.5" x2="1446.4" y2="88.5" stroke="#000" stroke-width="1.8" />
<text x="1429.9" y="96.49" font-size="21.9" text-anchor="end" fill="#1a1a1a" >1.0</text>
<line x1="1437.45" y1="29.02" x2="1446.4" y2="29.02" stroke="#000" stroke-width="1.8" />
<text x="1429.9" y="37.01" font-size="21.9" text-anchor="end" fill="#1a1a1a" >1.2</text>
<text x="1727.4" y="463" font-size="21.9" text-anchor="middle" font-style="italic" fill="#1a1a1a">z</text>
<text transform="translate(1381,207.9) rotate(-90)" font-size="21.6" text-anchor="middle" fill="#1a1a1a"><tspan font-style="italic">dN</tspan>/<tspan font-style="italic">dz</tspan></text>
<text x="1363.6" y="38" font-size="32.5" font-weight="bold" fill="#000">c</text>
<rect x="144.3" y="493.6" width="843" height="871.6" fill="none" stroke="#000" stroke-width="1.9"/>
<clipPath id="cd"><rect x="144.3" y="493.6" width="843" height="871.6"/></clipPath>
<g clip-path="url(#cd)">
<polygon points="184.9,1137.04 190.96,1122.42 197.02,1108.52 203.07,1095.26 209.13,1082.6 215.19,1070.5 221.25,1058.92 227.3,1047.84 233.36,1037.23 239.42,1027.05 245.48,1017.31 251.53,1007.97 257.59,999.03 263.65,990.48 269.7,982.31 275.76,974.51 281.82,967.08 287.88,960.02 293.94,953.32 299.99,946.97 306.05,940.99 312.11,935.37 318.17,930.12 324.22,925.22 330.28,920.68 336.34,916.51 342.39,912.69 348.45,909.23 354.51,906.13 360.57,903.38 366.62,900.97 372.68,898.91 378.74,897.17 384.8,895.77 390.86,894.68 396.91,893.89 402.97,893.4 409.03,893.19 415.09,893.26 421.14,893.57 427.2,894.14 433.26,894.93 439.32,895.93 445.37,897.14 451.43,898.54 457.49,900.11 463.54,901.85 469.6,903.73 475.66,905.75 481.72,907.9 487.77,910.16 493.83,912.53 499.89,914.98 505.95,917.53 512,920.15 518.06,922.84 524.12,925.58 530.18,928.38 536.24,931.23 542.29,934.12 548.35,937.04 554.41,939.99 560.47,942.97 566.52,945.97 572.58,948.99 578.64,952.01 584.7,955.05 590.75,958.1 596.81,961.15 602.87,964.2 608.93,967.25 614.98,970.3 621.04,973.34 627.1,976.38 633.16,979.41 639.21,982.43 645.27,985.44 651.33,988.45 657.39,991.43 663.44,994.41 669.5,997.37 675.56,1000.32 681.62,1003.25 687.67,1006.17 693.73,1009.07 699.79,1011.95 705.85,1014.82 711.9,1017.67 717.96,1020.5 724.02,1023.32 730.08,1026.11 736.13,1028.89 742.19,1031.66 748.25,1034.4 754.31,1037.13 760.36,1039.84 766.42,1042.53 772.48,1045.2 778.54,1047.85 784.59,1050.49 790.65,1053.11 796.71,1055.71 802.76,1058.29 808.82,1060.86 814.88,1063.41 820.94,1065.94 827,1068.45 833.05,1070.95 839.11,1073.43 845.17,1075.89 851.23,1078.34 857.28,1080.77 863.34,1083.18 869.4,1085.58 875.46,1087.96 881.51,1090.33 887.57,1092.67 893.63,1095.01 899.69,1097.33 905.74,1099.63 911.8,1101.92 917.86,1104.19 923.91,1106.45 929.97,1108.69 936.03,1110.92 936.03,1261.78 929.97,1259.55 923.91,1257.31 917.86,1255.05 911.8,1252.77 905.74,1250.49 899.69,1248.18 893.63,1245.87 887.57,1243.53 881.51,1241.18 875.46,1238.82 869.4,1236.44 863.34,1234.04 857.28,1231.63 851.23,1229.2 845.17,1226.75 839.11,1224.29 833.05,1221.81 827,1219.31 820.94,1216.8 814.88,1214.27 808.82,1211.72 802.76,1209.15 796.71,1206.57 790.65,1203.97 784.59,1201.35 778.54,1198.71 772.48,1196.06 766.42,1193.38 760.36,1190.69 754.31,1187.99 748.25,1185.26 742.19,1182.51 736.13,1179.75 730.08,1176.97 724.02,1174.17 717.96,1171.36 711.9,1168.53 705.85,1165.67 699.79,1162.81 693.73,1159.92 687.67,1157.02 681.62,1154.11 675.56,1151.17 669.5,1148.23 663.44,1145.27 657.39,1142.29 651.33,1139.3 645.27,1136.3 639.21,1133.29 633.16,1130.27 627.1,1127.24 621.04,1124.2 614.98,1121.16 608.93,1118.11 602.87,1115.06 596.81,1112.01 590.75,1108.96 584.7,1105.91 578.64,1102.87 572.58,1099.84 566.52,1096.83 560.47,1093.83 554.41,1090.85 548.35,1087.9 542.29,1084.98 536.24,1082.09 530.18,1079.24 524.12,1076.44 518.06,1073.69 512,1071.01 505.95,1068.39 499.89,1065.84 493.83,1063.38 487.77,1061.02 481.72,1058.76 475.66,1056.61 469.6,1054.59 463.54,1052.71 457.49,1050.97 451.43,1049.4 445.37,1048 439.32,1046.79 433.26,1045.79 427.2,1044.99 421.14,1044.43 415.09,1044.11 409.03,1044.05 402.97,1044.26 396.91,1044.75 390.86,1045.54 384.8,1046.63 378.74,1048.03 372.68,1049.76 366.62,1051.83 360.57,1054.24 354.51,1056.99 348.45,1060.09 342.39,1063.55 336.34,1067.37 330.28,1071.54 324.22,1076.08 318.17,1080.97 312.11,1086.23 306.05,1091.85 299.99,1097.83 293.94,1104.17 287.88,1110.88 281.82,1117.94 275.76,1125.37 269.7,1133.17 263.65,1141.34 257.59,1149.89 251.53,1158.83 245.48,1168.17 239.42,1177.91 233.36,1188.08 227.3,1198.7 221.25,1209.78 215.19,1221.36 209.13,1233.46 203.07,1246.11 197.02,1259.37 190.96,1273.28 184.9,1287.89" fill="#008080" fill-opacity="0.3" stroke="#008080" stroke-opacity="0.3" stroke-width="2.3" stroke-linejoin="miter"/>
<polygon points="197.02,1336.42 200.65,1319.33 204.28,1301.71 207.92,1284.36 211.55,1268.08 215.19,1253.69 218.82,1240.93 222.46,1228.99 226.09,1217.89 229.73,1207.63 233.36,1198.24 236.99,1189.71 240.63,1182.11 244.26,1175.57 247.9,1169.96 251.53,1165.13 255.17,1160.92 258.8,1157.19 262.44,1153.82 266.07,1151.16 269.7,1149.18 273.34,1147.71 276.97,1146.56 280.61,1145.57 284.24,1144.55 287.88,1143.58 291.51,1142.83 295.15,1142.26 298.78,1141.82 302.42,1141.48 306.05,1141.19 309.68,1140.94 313.32,1140.77 316.95,1140.68 320.59,1140.68 324.22,1140.77 327.86,1140.94 331.49,1141.2 335.13,1141.57 338.76,1142.04 342.39,1142.59 346.03,1143.21 349.66,1143.87 353.3,1144.55 356.93,1145.28 360.57,1146.09 364.2,1146.95 367.84,1147.83 371.47,1148.7 375.11,1149.56 378.74,1150.37 382.37,1151.16 386.01,1151.94 389.64,1152.72 393.28,1153.52 396.91,1154.33 400.55,1155.17 404.18,1156.03 407.82,1156.91 411.45,1157.8 415.09,1158.71 418.72,1159.66 422.35,1160.63 425.99,1161.67 429.62,1162.77 433.26,1163.89 436.89,1165.02 440.53,1166.13 444.16,1167.19 447.8,1168.18 451.43,1169.1 455.06,1169.98 458.7,1170.84 462.33,1171.72 465.97,1172.63 469.6,1173.6 473.24,1174.64 476.87,1175.72 480.51,1176.82 484.14,1177.93 487.77,1179.02 487.77,1323.09 484.14,1321.72 480.51,1320.35 476.87,1318.98 473.24,1317.6 469.6,1316.21 465.97,1314.79 462.33,1313.35 458.7,1311.89 455.06,1310.44 451.43,1308.97 447.8,1307.51 444.16,1306.06 440.53,1304.59 436.89,1303.11 433.26,1301.63 429.62,1300.17 425.99,1298.74 422.35,1297.35 418.72,1296.03 415.09,1294.77 411.45,1293.54 407.82,1292.31 404.18,1291.06 400.55,1289.76 396.91,1288.39 393.28,1286.94 389.64,1285.46 386.01,1283.97 382.37,1282.49 378.74,1281.04 375.11,1279.67 371.47,1278.35 367.84,1277.07 364.2,1275.82 360.57,1274.58 356.93,1273.33 353.3,1272.08 349.66,1270.77 346.03,1269.42 342.39,1268.06 338.76,1266.74 335.13,1265.5 331.49,1264.38 327.86,1263.39 324.22,1262.49 320.59,1261.68 316.95,1260.95 313.32,1260.31 309.68,1259.76 306.05,1259.29 302.42,1258.87 298.78,1258.52 295.15,1258.25 291.51,1258.11 287.88,1258.11 284.24,1258.29 280.61,1258.57 276.97,1258.93 273.34,1259.41 269.7,1260.1 266.07,1261.06 262.44,1262.37 258.8,1264.02 255.17,1265.89 251.53,1268.02 247.9,1270.47 244.26,1273.3 240.63,1276.54 236.99,1280.25 233.36,1284.24 229.73,1288.55 226.09,1293.28 222.46,1298.54 218.82,1304.46 215.19,1311.14 211.55,1319.16 207.92,1328.6 204.28,1338.87 200.65,1349.33 197.02,1359.39" fill="#2ca02c" fill-opacity="0.35" stroke="#2ca02c" stroke-opacity="0.35" stroke-width="2.3" stroke-linejoin="miter"/>
<polyline fill="none" stroke="#000" stroke-width="3.5" stroke-linecap="square" stroke-linejoin="round"  points="184.9,1341.58 190.96,1326.96 197.02,1313.06 203.07,1299.8 209.13,1287.14 215.19,1275.04 221.25,1263.47 227.3,1252.38 233.36,1241.77 239.42,1231.59 245.48,1221.85 251.53,1212.51 257.59,1203.57 263.65,1195.02 269.7,1186.85 275.76,1179.05 281.82,1171.62 287.88,1164.56 293.94,1157.86 299.99,1151.52 306.05,1145.53 312.11,1139.92 318.17,1134.66 324.22,1129.76 330.28,1125.22 336.34,1121.05 342.39,1117.23 348.45,1113.77 354.51,1110.67 360.57,1107.92 366.62,1105.51 372.68,1103.45 378.74,1101.72 384.8,1100.31 390.86,1099.22 396.91,1098.43 402.97,1097.94 409.03,1097.73 415.09,1097.8 421.14,1098.12 427.2,1098.68 433.26,1099.47 439.32,1100.48 445.37,1101.68 451.43,1103.08 457.49,1104.65 463.54,1106.39 469.6,1108.27 475.66,1110.29 481.72,1112.44 487.77,1114.7 493.83,1117.07 499.89,1119.53 505.95,1122.07 512,1124.69 518.06,1127.38 524.12,1130.12 530.18,1132.92 536.24,1135.77 542.29,1138.66 548.35,1141.58 554.41,1144.54 560.47,1147.51 566.52,1150.51 572.58,1153.53 578.64,1156.56 584.7,1159.59 590.75,1162.64 596.81,1165.69 602.87,1168.74 608.93,1171.79 614.98,1174.84 621.04,1177.88 627.1,1180.92 633.16,1183.95 639.21,1186.97 645.27,1189.99 651.33,1192.99 657.39,1195.97 663.44,1198.95 669.5,1201.91 675.56,1204.86 681.62,1207.79 687.67,1210.71 693.73,1213.61 699.79,1216.49 705.85,1219.36 711.9,1222.21 717.96,1225.04 724.02,1227.86 730.08,1230.65 736.13,1233.44 742.19,1236.2 748.25,1238.94 754.31,1241.67 760.36,1244.38 766.42,1247.07 772.48,1249.74 778.54,1252.39 784.59,1255.03 790.65,1257.65 796.71,1260.25 802.76,1262.83 808.82,1265.4 814.88,1267.95 820.94,1270.48 827,1272.99 833.05,1275.49 839.11,1277.97 845.17,1280.43 851.23,1282.88 857.28,1285.31 863.34,1287.72 869.4,1290.12 875.46,1292.5 881.51,1294.87 887.57,1297.22 893.63,1299.55 899.69,1301.87 905.74,1304.17 911.8,1306.46 917.86,1308.73 923.91,1310.99 929.97,1313.23 936.03,1315.46"/>
<polyline fill="none" stroke="#008080" stroke-width="3.5" stroke-linecap="butt" stroke-linejoin="round" stroke-dasharray="12.9 5.6"  points="184.9,1244.69 190.96,1230.07 197.02,1216.17 203.07,1202.91 209.13,1190.25 215.19,1178.15 221.25,1166.58 227.3,1155.49 233.36,1144.88 239.42,1134.7 245.48,1124.96 251.53,1115.62 257.59,1106.68 263.65,1098.13 269.7,1089.96 275.76,1082.16 281.82,1074.73 287.88,1067.67 293.94,1060.97 299.99,1054.62 306.05,1048.64 312.11,1043.03 318.17,1037.77 324.22,1032.87 330.28,1028.33 336.34,1024.16 342.39,1020.34 348.45,1016.88 354.51,1013.78 360.57,1011.03 366.62,1008.62 372.68,1006.56 378.74,1004.83 384.8,1003.42 390.86,1002.33 396.91,1001.54 402.97,1001.05 409.03,1000.84 415.09,1000.91 421.14,1001.22 427.2,1001.79 433.26,1002.58 439.32,1003.59 445.37,1004.79 451.43,1006.19 457.49,1007.76 463.54,1009.5 469.6,1011.38 475.66,1013.4 481.72,1015.55 487.77,1017.81 493.83,1020.18 499.89,1022.64 505.95,1025.18 512,1027.8 518.06,1030.49 524.12,1033.23 530.18,1036.03 536.24,1038.88 542.29,1041.77 548.35,1044.69 554.41,1047.64 560.47,1050.62 566.52,1053.62 572.58,1056.64 578.64,1059.67 584.7,1062.7 590.75,1065.75 596.81,1068.8 602.87,1071.85 608.93,1074.9 614.98,1077.95 621.04,1080.99 627.1,1084.03 633.16,1087.06 639.21,1090.08 645.27,1093.1 651.33,1096.1 657.39,1099.08 663.44,1102.06 669.5,1105.02 675.56,1107.97 681.62,1110.9 687.67,1113.82 693.73,1116.72 699.79,1119.6 705.85,1122.47 711.9,1125.32 717.96,1128.15 724.02,1130.97 730.08,1133.76 736.13,1136.54 742.19,1139.31 748.25,1142.05 754.31,1144.78 760.36,1147.49 766.42,1150.18 772.48,1152.85 778.54,1155.5 784.59,1158.14 790.65,1160.76 796.71,1163.36 802.76,1165.94 808.82,1168.51 814.88,1171.06 820.94,1173.59 827,1176.1 833.05,1178.6 839.11,1181.08 845.17,1183.54 851.23,1185.99 857.28,1188.42 863.34,1190.83 869.4,1193.23 875.46,1195.61 881.51,1197.98 887.57,1200.33 893.63,1202.66 899.69,1204.98 905.74,1207.28 911.8,1209.57 917.86,1211.84 923.91,1214.1 929.97,1216.34 936.03,1218.57"/>
<polyline fill="none" stroke="#2ca02c" stroke-width="3.5" stroke-linecap="butt" stroke-linejoin="round" stroke-dasharray="22.4 5.6 3.5 5.6" stroke-opacity="0.6"  points="197.02,1350.2 200.65,1335.83 204.28,1320.88 207.92,1306.21 211.55,1292.72 215.19,1281.27 218.82,1271.72 222.46,1263.24 226.09,1255.68 229.73,1248.91 233.36,1242.77 236.99,1237.11 240.63,1231.94 244.26,1227.52 247.9,1223.77 251.53,1220.54 255.17,1217.71 258.8,1215.13 262.44,1212.69 266.07,1210.56 269.7,1208.77 273.34,1207.3 276.97,1206.08 280.61,1205.1 284.24,1204.29 287.88,1203.75 291.51,1203.51 295.15,1203.51 298.78,1203.68 302.42,1203.94 306.05,1204.21 309.68,1204.47 313.32,1204.81 316.95,1205.23 320.59,1205.72 324.22,1206.27 327.86,1206.86 331.49,1207.49 335.13,1208.18 338.76,1208.91 342.39,1209.7 346.03,1210.53 349.66,1211.41 353.3,1212.33 356.93,1213.32 360.57,1214.36 364.2,1215.45 367.84,1216.58 371.47,1217.71 375.11,1218.85 378.74,1219.98 382.37,1221.12 386.01,1222.28 389.64,1223.45 393.28,1224.62 396.91,1225.79 400.55,1226.98 404.18,1228.17 407.82,1229.39 411.45,1230.6 415.09,1231.81 418.72,1233 422.35,1234.16 425.99,1235.29 429.62,1236.39 433.26,1237.47 436.89,1238.55 440.53,1239.62 444.16,1240.7 447.8,1241.78 451.43,1242.87 455.06,1243.96 458.7,1245.05 462.33,1246.14 465.97,1247.23 469.6,1248.31 473.24,1249.39 476.87,1250.47 480.51,1251.54 484.14,1252.62 487.77,1253.69"/>
<line x1="197.02" y1="1259.63" x2="245.48" y2="1259.63" stroke="#daa520" stroke-width="3.5" />
<line x1="197.02" y1="1250.33" x2="197.02" y2="1268.93" stroke="#daa520" stroke-width="2.6" />
<line x1="245.48" y1="1250.33" x2="245.48" y2="1268.93" stroke="#daa520" stroke-width="2.6" />
<line x1="221.25" y1="1291.74" x2="221.25" y2="1223.9" stroke="#daa520" stroke-width="3.5" />
<line x1="211.94" y1="1291.74" x2="230.55" y2="1291.74" stroke="#daa520" stroke-width="2.6" />
<line x1="211.94" y1="1223.9" x2="230.55" y2="1223.9" stroke="#daa520" stroke-width="2.6" />
<circle cx="221.25" cy="1259.63" r="8.1" fill="#daa520"/>
<line x1="245.48" y1="1193.62" x2="293.94" y2="1193.62" stroke="#daa520" stroke-width="3.5" />
<line x1="245.48" y1="1184.32" x2="245.48" y2="1202.92" stroke="#daa520" stroke-width="2.6" />
<line x1="293.94" y1="1184.32" x2="293.94" y2="1202.92" stroke="#daa520" stroke-width="2.6" />
<line x1="269.7" y1="1216.5" x2="269.7" y2="1167.49" stroke="#daa520" stroke-width="3.5" />
<line x1="260.4" y1="1216.5" x2="279" y2="1216.5" stroke="#daa520" stroke-width="2.6" />
<line x1="260.4" y1="1167.49" x2="279" y2="1167.49" stroke="#daa520" stroke-width="2.6" />
<circle cx="269.7" cy="1193.62" r="8.1" fill="#daa520"/>
<line x1="293.94" y1="1218.67" x2="342.39" y2="1218.67" stroke="#daa520" stroke-width="3.5" />
<line x1="293.94" y1="1209.37" x2="293.94" y2="1227.97" stroke="#daa520" stroke-width="2.6" />
<line x1="342.39" y1="1209.37" x2="342.39" y2="1227.97" stroke="#daa520" stroke-width="2.6" />
<line x1="318.17" y1="1245.79" x2="318.17" y2="1185.47" stroke="#daa520" stroke-width="3.5" />
<line x1="308.87" y1="1245.79" x2="327.47" y2="1245.79" stroke="#daa520" stroke-width="2.6" />
<line x1="308.87" y1="1185.47" x2="327.47" y2="1185.47" stroke="#daa520" stroke-width="2.6" />
<circle cx="318.17" cy="1218.67" r="8.1" fill="#daa520"/>
<line x1="342.39" y1="1212.29" x2="390.86" y2="1212.29" stroke="#daa520" stroke-width="3.5" />
<line x1="342.39" y1="1202.99" x2="342.39" y2="1221.59" stroke="#daa520" stroke-width="2.6" />
<line x1="390.86" y1="1202.99" x2="390.86" y2="1221.59" stroke="#daa520" stroke-width="2.6" />
<line x1="366.62" y1="1269.53" x2="366.62" y2="1157.57" stroke="#daa520" stroke-width="3.5" />
<line x1="357.32" y1="1269.53" x2="375.93" y2="1269.53" stroke="#daa520" stroke-width="2.6" />
<line x1="357.32" y1="1157.57" x2="375.93" y2="1157.57" stroke="#daa520" stroke-width="2.6" />
<circle cx="366.62" cy="1212.29" r="8.1" fill="#daa520"/>
<line x1="390.86" y1="1215.08" x2="439.32" y2="1215.08" stroke="#daa520" stroke-width="3.5" />
<line x1="390.86" y1="1205.78" x2="390.86" y2="1224.38" stroke="#daa520" stroke-width="2.6" />
<line x1="439.32" y1="1205.78" x2="439.32" y2="1224.38" stroke="#daa520" stroke-width="2.6" />
<line x1="415.09" y1="1307.55" x2="415.09" y2="1133.73" stroke="#daa520" stroke-width="3.5" />
<line x1="405.79" y1="1307.55" x2="424.39" y2="1307.55" stroke="#daa520" stroke-width="2.6" />
<line x1="405.79" y1="1133.73" x2="424.39" y2="1133.73" stroke="#daa520" stroke-width="2.6" />
<circle cx="415.09" cy="1215.08" r="8.1" fill="#daa520"/>
<line x1="439.32" y1="1140.04" x2="487.77" y2="1140.04" stroke="#daa520" stroke-width="3.5" />
<line x1="439.32" y1="1130.74" x2="439.32" y2="1149.34" stroke="#daa520" stroke-width="2.6" />
<line x1="487.77" y1="1130.74" x2="487.77" y2="1149.34" stroke="#daa520" stroke-width="2.6" />
<line x1="463.54" y1="1235.15" x2="463.54" y2="1057.22" stroke="#daa520" stroke-width="3.5" />
<line x1="454.24" y1="1235.15" x2="472.84" y2="1235.15" stroke="#daa520" stroke-width="2.6" />
<line x1="454.24" y1="1057.22" x2="472.84" y2="1057.22" stroke="#daa520" stroke-width="2.6" />
<circle cx="463.54" cy="1140.04" r="8.1" fill="#daa520"/>
<line x1="306.05" y1="1076.27" x2="427.2" y2="1076.27" stroke="#008080" stroke-width="3.5" />
<line x1="306.05" y1="1066.97" x2="306.05" y2="1085.57" stroke="#008080" stroke-width="2.6" />
<line x1="427.2" y1="1066.97" x2="427.2" y2="1085.57" stroke="#008080" stroke-width="2.6" />
<line x1="366.62" y1="1111.41" x2="366.62" y2="896.63" stroke="#008080" stroke-width="3.5" />
<line x1="357.32" y1="1111.41" x2="375.93" y2="1111.41" stroke="#008080" stroke-width="2.6" />
<line x1="357.32" y1="896.63" x2="375.93" y2="896.63" stroke="#008080" stroke-width="2.6" />
<circle cx="366.62" cy="1076.27" r="8.1" fill="#008080"/>
<line x1="427.2" y1="989.25" x2="608.93" y2="989.25" stroke="#008080" stroke-width="3.5" />
<line x1="427.2" y1="979.95" x2="427.2" y2="998.55" stroke="#008080" stroke-width="2.6" />
<line x1="608.93" y1="979.95" x2="608.93" y2="998.55" stroke="#008080" stroke-width="2.6" />
<line x1="518.06" y1="1015.45" x2="518.06" y2="804.06" stroke="#008080" stroke-width="3.5" />
<line x1="508.76" y1="1015.45" x2="527.36" y2="1015.45" stroke="#008080" stroke-width="2.6" />
<line x1="508.76" y1="804.06" x2="527.36" y2="804.06" stroke="#008080" stroke-width="2.6" />
<circle cx="518.06" cy="989.25" r="8.1" fill="#008080"/>
<line x1="245.48" y1="935" x2="306.05" y2="935" stroke="#008080" stroke-width="3.5" />
<line x1="245.48" y1="925.7" x2="245.48" y2="944.3" stroke="#008080" stroke-width="2.6" />
<line x1="306.05" y1="925.7" x2="306.05" y2="944.3" stroke="#008080" stroke-width="2.6" />
<line x1="275.76" y1="935" x2="275.76" y2="1015" stroke="#008080" stroke-width="3.5" />
<polygon points="265.36,1013 286.16,1013 275.76,1028" fill="#008080"/>
<line x1="608.93" y1="801.25" x2="911.8" y2="801.25" stroke="#008080" stroke-width="3.5" />
<line x1="608.93" y1="791.95" x2="608.93" y2="810.55" stroke="#008080" stroke-width="2.6" />
<line x1="911.8" y1="791.95" x2="911.8" y2="810.55" stroke="#008080" stroke-width="2.6" />
<line x1="760.36" y1="801.25" x2="760.36" y2="881.25" stroke="#008080" stroke-width="3.5" />
<polygon points="749.96,879.25 770.76,879.25 760.36,894.25" fill="#008080"/>
</g>
<line x1="184.9" y1="1365.2" x2="184.9" y2="1374.15" stroke="#000" stroke-width="1.8" />
<text x="184.9" y="1400" font-size="24.6" text-anchor="middle" fill="#1a1a1a" >0</text>
<line x1="306.05" y1="1365.2" x2="306.05" y2="1374.15" stroke="#000" stroke-width="1.8" />
<text x="306.05" y="1400" font-size="24.6" text-anchor="middle" fill="#1a1a1a" >1</text>
<line x1="427.2" y1="1365.2" x2="427.2" y2="1374.15" stroke="#000" stroke-width="1.8" />
<text x="427.2" y="1400" font-size="24.6" text-anchor="middle" fill="#1a1a1a" >2</text>
<line x1="548.35" y1="1365.2" x2="548.35" y2="1374.15" stroke="#000" stroke-width="1.8" />
<text x="548.35" y="1400" font-size="24.6" text-anchor="middle" fill="#1a1a1a" >3</text>
<line x1="669.5" y1="1365.2" x2="669.5" y2="1374.15" stroke="#000" stroke-width="1.8" />
<text x="669.5" y="1400" font-size="24.6" text-anchor="middle" fill="#1a1a1a" >4</text>
<line x1="790.65" y1="1365.2" x2="790.65" y2="1374.15" stroke="#000" stroke-width="1.8" />
<text x="790.65" y="1400" font-size="24.6" text-anchor="middle" fill="#1a1a1a" >5</text>
<line x1="911.8" y1="1365.2" x2="911.8" y2="1374.15" stroke="#000" stroke-width="1.8" />
<text x="911.8" y="1400" font-size="24.6" text-anchor="middle" fill="#1a1a1a" >6</text>
<line x1="138.75" y1="1355.26" x2="144.3" y2="1355.26" stroke="#000" stroke-width="1.4" />
<line x1="135.35" y1="1343.5" x2="144.3" y2="1343.5" stroke="#000" stroke-width="1.8" />
<line x1="138.75" y1="1266.14" x2="144.3" y2="1266.14" stroke="#000" stroke-width="1.4" />
<line x1="138.75" y1="1220.88" x2="144.3" y2="1220.88" stroke="#000" stroke-width="1.4" />
<line x1="138.75" y1="1188.77" x2="144.3" y2="1188.77" stroke="#000" stroke-width="1.4" />
<line x1="138.75" y1="1163.86" x2="144.3" y2="1163.86" stroke="#000" stroke-width="1.4" />
<line x1="138.75" y1="1143.52" x2="144.3" y2="1143.52" stroke="#000" stroke-width="1.4" />
<line x1="138.75" y1="1126.31" x2="144.3" y2="1126.31" stroke="#000" stroke-width="1.4" />
<line x1="138.75" y1="1111.41" x2="144.3" y2="1111.41" stroke="#000" stroke-width="1.4" />
<line x1="138.75" y1="1098.26" x2="144.3" y2="1098.26" stroke="#000" stroke-width="1.4" />
<line x1="135.35" y1="1086.5" x2="144.3" y2="1086.5" stroke="#000" stroke-width="1.8" />
<line x1="138.75" y1="1009.14" x2="144.3" y2="1009.14" stroke="#000" stroke-width="1.4" />
<line x1="138.75" y1="963.88" x2="144.3" y2="963.88" stroke="#000" stroke-width="1.4" />
<line x1="138.75" y1="931.77" x2="144.3" y2="931.77" stroke="#000" stroke-width="1.4" />
<line x1="138.75" y1="906.86" x2="144.3" y2="906.86" stroke="#000" stroke-width="1.4" />
<line x1="138.75" y1="886.52" x2="144.3" y2="886.52" stroke="#000" stroke-width="1.4" />
<line x1="138.75" y1="869.31" x2="144.3" y2="869.31" stroke="#000" stroke-width="1.4" />
<line x1="138.75" y1="854.41" x2="144.3" y2="854.41" stroke="#000" stroke-width="1.4" />
<line x1="138.75" y1="841.26" x2="144.3" y2="841.26" stroke="#000" stroke-width="1.4" />
<line x1="135.35" y1="829.5" x2="144.3" y2="829.5" stroke="#000" stroke-width="1.8" />
<line x1="138.75" y1="752.14" x2="144.3" y2="752.14" stroke="#000" stroke-width="1.4" />
<line x1="138.75" y1="706.88" x2="144.3" y2="706.88" stroke="#000" stroke-width="1.4" />
<line x1="138.75" y1="674.77" x2="144.3" y2="674.77" stroke="#000" stroke-width="1.4" />
<line x1="138.75" y1="649.86" x2="144.3" y2="649.86" stroke="#000" stroke-width="1.4" />
<line x1="138.75" y1="629.52" x2="144.3" y2="629.52" stroke="#000" stroke-width="1.4" />
<line x1="138.75" y1="612.31" x2="144.3" y2="612.31" stroke="#000" stroke-width="1.4" />
<line x1="138.75" y1="597.41" x2="144.3" y2="597.41" stroke="#000" stroke-width="1.4" />
<line x1="138.75" y1="584.26" x2="144.3" y2="584.26" stroke="#000" stroke-width="1.4" />
<line x1="135.35" y1="572.5" x2="144.3" y2="572.5" stroke="#000" stroke-width="1.8" />
<line x1="138.75" y1="495.14" x2="144.3" y2="495.14" stroke="#000" stroke-width="1.4" />
<text transform="translate(124.3,1352.86) scale(1.0200,1)" font-size="23.4" text-anchor="end" fill="#1a1a1a">10<tspan font-size="16.38" dy="-9.83" dx="0.8">−4</tspan></text>
<text transform="translate(124.3,1095.86) scale(1.0200,1)" font-size="23.4" text-anchor="end" fill="#1a1a1a">10<tspan font-size="16.38" dy="-9.83" dx="0.8">−3</tspan></text>
<text transform="translate(124.3,838.86) scale(1.0200,1)" font-size="23.4" text-anchor="end" fill="#1a1a1a">10<tspan font-size="16.38" dy="-9.83" dx="0.8">−2</tspan></text>
<text transform="translate(124.3,581.86) scale(1.0200,1)" font-size="23.4" text-anchor="end" fill="#1a1a1a">10<tspan font-size="16.38" dy="-9.83" dx="0.8">−1</tspan></text>
<text x="565.8" y="1432" font-size="23.4" text-anchor="middle" fill="#1a1a1a" >z</text>
<text transform="translate(49,931.4) rotate(-90)" font-size="23.8" text-anchor="middle" fill="#1a1a1a"><tspan font-style="italic">R</tspan><tspan font-size="16.66" dy="4">CC</tspan><tspan dy="-4"> (yr</tspan><tspan font-size="16.66" dy="-8">−1</tspan><tspan dy="8">Mpc</tspan><tspan font-size="16.66" dy="-8">−3</tspan><tspan dy="8">)</tspan></text>
<rect x="235.2" y="505.1" width="739.4" height="255.1" rx="4.5" ry="4.5" fill="#fff" fill-opacity="0.8" stroke="#ccc" stroke-width="2.2"/>
<line x1="244.6" y1="524.9" x2="292.6" y2="524.9" stroke="#000" stroke-width="3.5" stroke-linecap="square"/>
<line x1="244.6" y1="562.3" x2="292.6" y2="562.3" stroke="#008080" stroke-width="3.5" stroke-dasharray="12.9 5.6"/>
<rect x="244.6" y="591.9" width="48" height="16.5" fill="#008080" fill-opacity="0.3" stroke="#008080" stroke-opacity="0.3" stroke-width="2.3"/>
<line x1="244.6" y1="634.4" x2="292.6" y2="634.4" stroke="#2ca02c" stroke-width="3.5" stroke-dasharray="22.4 5.6 3.5 5.6" stroke-opacity="0.6"/>
<rect x="244.6" y="661.2" width="48" height="16.5" fill="#2ca02c" fill-opacity="0.35" stroke="#2ca02c" stroke-opacity="0.35" stroke-width="2.3"/>
<line x1="257.1" y1="704.1" x2="280.1" y2="704.1" stroke="#daa520" stroke-width="3.5" />
<line x1="268.6" y1="692.6" x2="268.6" y2="715.6" stroke="#daa520" stroke-width="3.5" />
<line x1="257.1" y1="695.1" x2="257.1" y2="713.1" stroke="#daa520" stroke-width="2.6" />
<line x1="280.1" y1="695.1" x2="280.1" y2="713.1" stroke="#daa520" stroke-width="2.6" />
<line x1="259.6" y1="692.6" x2="277.6" y2="692.6" stroke="#daa520" stroke-width="2.6" />
<line x1="259.6" y1="715.6" x2="277.6" y2="715.6" stroke="#daa520" stroke-width="2.6" />
<circle cx="268.6" cy="704.1" r="8.1" fill="#daa520"/>
<line x1="257.1" y1="738.5" x2="280.1" y2="738.5" stroke="#008080" stroke-width="3.5" />
<line x1="268.6" y1="727" x2="268.6" y2="750" stroke="#008080" stroke-width="3.5" />
<line x1="257.1" y1="729.5" x2="257.1" y2="747.5" stroke="#008080" stroke-width="2.6" />
<line x1="280.1" y1="729.5" x2="280.1" y2="747.5" stroke="#008080" stroke-width="2.6" />
<line x1="259.6" y1="727" x2="277.6" y2="727" stroke="#008080" stroke-width="2.6" />
<line x1="259.6" y1="750" x2="277.6" y2="750" stroke="#008080" stroke-width="2.6" />
<text transform="translate(313.04,532.3) scale(1.0750,1)" font-size="22.7" fill="#1a1a1a" font-style="italic">k</text>
<text transform="translate(326.34,536.3) scale(1.0750,1)" font-size="15.89" fill="#1a1a1a" >CC</text>
<text transform="translate(358.93,532.3) scale(1.0794,1)" font-size="22.7" fill="#1a1a1a" >and</text>
<text transform="translate(411.84,532.3) scale(1.0750,1)" font-size="22.7" fill="#1a1a1a" font-style="italic" stroke="#1a1a1a" stroke-width="0.55">ψ</text>
<text transform="translate(436.64,532.3) scale(1.0680,1)" font-size="22.7" fill="#1a1a1a" >from the analysis of the CSFH</text>
<text transform="translate(312.06,569.7) scale(1.0934,1)" font-size="22.7" fill="#1a1a1a" >MLE</text>
<text transform="translate(370.64,569.7) scale(1.0750,1)" font-size="22.7" fill="#1a1a1a" font-style="italic">k</text>
<text transform="translate(383.84,573.7) scale(1.0750,1)" font-size="15.89" fill="#1a1a1a" >CC</text>
<text transform="translate(415.42,569.7) scale(1.0750,1)" font-size="22.7" fill="#1a1a1a" >,</text>
<text transform="translate(429.57,569.7) scale(1.0198,1)" font-size="22.7" fill="#1a1a1a" >for</text>
<text transform="translate(472.44,569.7) scale(1.0750,1)" font-size="22.7" fill="#1a1a1a" font-style="italic" stroke="#1a1a1a" stroke-width="0.55">ψ</text>
<text transform="translate(497.24,569.7) scale(1.0680,1)" font-size="22.7" fill="#1a1a1a" >from the analysis of the CSFH</text>
<text transform="translate(312.21,607.5) scale(1.0638,1)" font-size="22.7" fill="#1a1a1a" >68% confidence intervals of</text>
<text transform="translate(658.14,607.5) scale(1.0750,1)" font-size="22.7" fill="#1a1a1a" font-style="italic">k</text>
<text transform="translate(672.94,611.5) scale(1.0750,1)" font-size="15.89" fill="#1a1a1a" >CC</text>
<text transform="translate(312.12,641.8) scale(1.0689,1)" font-size="22.7" fill="#1a1a1a" >Best-fit model from the CANDELS+CLASH analysis</text>
<text transform="translate(311.27,676.8) scale(1.0469,1)" font-size="22.7" fill="#1a1a1a" >Model uncertainties from the SN surveys</text>
<text transform="translate(312.33,711.5) scale(1.0466,1)" font-size="22.7" fill="#1a1a1a" >SN surveys (CANDELS+CLASH)</text>
<text transform="translate(311.52,745.9) scale(1.0700,1)" font-size="22.7" fill="#1a1a1a" >Multiply imaged SNe in the Hubble Frontier Fields</text>
<text x="47.7" y="515.8" font-size="32.5" font-weight="bold" fill="#000">d</text>
<rect x="1161.8" y="492.2" width="820.8" height="870.8" fill="none" stroke="#000" stroke-width="1.9"/>
<clipPath id="ce"><rect x="1161.8" y="492.2" width="820.8" height="870.8"/></clipPath>
<g clip-path="url(#ce)">
<polygon points="1200.8,1033.73 1206.88,1018.84 1212.96,1004.68 1219.04,991.17 1225.12,978.28 1231.2,965.95 1237.28,954.16 1243.36,942.87 1249.44,932.05 1255.52,921.69 1261.6,911.76 1267.68,902.25 1273.76,893.15 1279.84,884.44 1285.92,876.12 1292,868.17 1298.08,860.6 1304.16,853.41 1310.24,846.58 1316.32,840.12 1322.4,834.03 1328.48,828.3 1334.56,822.95 1340.64,817.96 1346.72,813.34 1352.8,809.08 1358.88,805.19 1364.96,801.67 1371.04,798.51 1377.12,795.71 1383.2,793.26 1389.28,791.15 1395.36,789.39 1401.44,787.96 1407.52,786.84 1413.6,786.04 1419.68,785.54 1425.76,785.33 1431.84,785.4 1437.92,785.72 1444,786.29 1450.08,787.1 1456.16,788.13 1462.24,789.36 1468.32,790.78 1474.4,792.38 1480.48,794.15 1486.56,796.07 1492.64,798.13 1498.72,800.31 1504.8,802.62 1510.88,805.03 1516.96,807.53 1523.04,810.12 1529.12,812.79 1535.2,815.53 1541.28,818.33 1547.36,821.18 1553.44,824.08 1559.52,827.02 1565.6,830 1571.68,833.01 1577.76,836.04 1583.84,839.1 1589.92,842.17 1596,845.25 1602.08,848.35 1608.16,851.45 1614.24,854.56 1620.32,857.67 1626.4,860.77 1632.48,863.88 1638.56,866.98 1644.64,870.07 1650.72,873.16 1656.8,876.24 1662.88,879.31 1668.96,882.36 1675.04,885.41 1681.12,888.44 1687.2,891.46 1693.28,894.46 1699.36,897.44 1705.44,900.41 1711.52,903.37 1717.6,906.31 1723.68,909.23 1729.76,912.13 1735.84,915.02 1741.92,917.89 1748,920.74 1754.08,923.57 1760.16,926.38 1766.24,929.18 1772.32,931.95 1778.4,934.71 1784.48,937.45 1790.56,940.18 1796.64,942.88 1802.72,945.57 1808.8,948.24 1814.88,950.88 1820.96,953.52 1827.04,956.13 1833.12,958.73 1839.2,961.3 1845.28,963.87 1851.36,966.41 1857.44,968.94 1863.52,971.44 1869.6,973.94 1875.68,976.41 1881.76,978.87 1887.84,981.31 1893.92,983.74 1900,986.15 1906.08,988.54 1912.16,990.92 1918.24,993.28 1924.32,995.62 1930.4,997.95 1936.48,1000.27 1942.56,1002.57 1948.64,1004.85 1954.72,1007.12 1954.72,1160.49 1948.64,1158.22 1942.56,1155.93 1936.48,1153.63 1930.4,1151.32 1924.32,1148.98 1918.24,1146.64 1912.16,1144.28 1906.08,1141.9 1900,1139.51 1893.92,1137.1 1887.84,1134.67 1881.76,1132.23 1875.68,1129.77 1869.6,1127.3 1863.52,1124.8 1857.44,1122.3 1851.36,1119.77 1845.28,1117.23 1839.2,1114.67 1833.12,1112.09 1827.04,1109.49 1820.96,1106.88 1814.88,1104.25 1808.8,1101.6 1802.72,1098.93 1796.64,1096.24 1790.56,1093.54 1784.48,1090.82 1778.4,1088.07 1772.32,1085.32 1766.24,1082.54 1760.16,1079.74 1754.08,1076.93 1748,1074.1 1741.92,1071.25 1735.84,1068.38 1729.76,1065.49 1723.68,1062.59 1717.6,1059.67 1711.52,1056.73 1705.44,1053.78 1699.36,1050.8 1693.28,1047.82 1687.2,1044.82 1681.12,1041.8 1675.04,1038.77 1668.96,1035.72 1662.88,1032.67 1656.8,1029.6 1650.72,1026.52 1644.64,1023.44 1638.56,1020.34 1632.48,1017.24 1626.4,1014.13 1620.32,1011.03 1614.24,1007.92 1608.16,1004.81 1602.08,1001.71 1596,998.61 1589.92,995.53 1583.84,992.46 1577.76,989.4 1571.68,986.37 1565.6,983.36 1559.52,980.38 1553.44,977.44 1547.36,974.54 1541.28,971.69 1535.2,968.89 1529.12,966.15 1523.04,963.48 1516.96,960.89 1510.88,958.39 1504.8,955.98 1498.72,953.67 1492.64,951.49 1486.56,949.43 1480.48,947.51 1474.4,945.74 1468.32,944.14 1462.24,942.72 1456.16,941.49 1450.08,940.46 1444,939.65 1437.92,939.08 1431.84,938.76 1425.76,938.69 1419.68,938.91 1413.6,939.41 1407.52,940.2 1401.44,941.32 1395.36,942.75 1389.28,944.51 1383.2,946.62 1377.12,949.07 1371.04,951.87 1364.96,955.03 1358.88,958.56 1352.8,962.44 1346.72,966.7 1340.64,971.32 1334.56,976.31 1328.48,981.66 1322.4,987.39 1316.32,993.48 1310.24,999.94 1304.16,1006.77 1298.08,1013.96 1292,1021.53 1285.92,1029.48 1279.84,1037.8 1273.76,1046.51 1267.68,1055.62 1261.6,1065.13 1255.52,1075.05 1249.44,1085.42 1243.36,1096.23 1237.28,1107.52 1231.2,1119.31 1225.12,1131.64 1219.04,1144.53 1212.96,1158.04 1206.88,1172.2 1200.8,1187.09" fill="#ff0000" fill-opacity="0.33" stroke="#ff0000" stroke-opacity="0.33" stroke-width="2.3" stroke-linejoin="miter"/>
<polygon points="1200.8,1146.66 1206.88,1131.77 1212.96,1117.61 1219.04,1104.1 1225.12,1091.21 1231.2,1078.88 1237.28,1067.09 1243.36,1055.8 1249.44,1044.99 1255.52,1034.62 1261.6,1024.7 1267.68,1015.19 1273.76,1006.08 1279.84,997.37 1285.92,989.05 1292,981.1 1298.08,973.53 1304.16,966.34 1310.24,959.51 1316.32,953.05 1322.4,946.96 1328.48,941.23 1334.56,935.88 1340.64,930.89 1346.72,926.27 1352.8,922.01 1358.88,918.13 1364.96,914.6 1371.04,911.44 1377.12,908.64 1383.2,906.19 1389.28,904.08 1395.36,902.32 1401.44,900.89 1407.52,899.78 1413.6,898.98 1419.68,898.48 1425.76,898.26 1431.84,898.33 1437.92,898.65 1444,899.22 1450.08,900.03 1456.16,901.06 1462.24,902.29 1468.32,903.71 1474.4,905.31 1480.48,907.08 1486.56,909 1492.64,911.06 1498.72,913.24 1504.8,915.55 1510.88,917.96 1516.96,920.46 1523.04,923.05 1529.12,925.72 1535.2,928.46 1541.28,931.26 1547.36,934.11 1553.44,937.01 1559.52,939.95 1565.6,942.93 1571.68,945.94 1577.76,948.97 1583.84,952.03 1589.92,955.1 1596,958.18 1602.08,961.28 1608.16,964.38 1614.24,967.49 1620.32,970.6 1626.4,973.7 1632.48,976.81 1638.56,979.91 1644.64,983.01 1650.72,986.09 1656.8,989.17 1662.88,992.24 1668.96,995.29 1675.04,998.34 1681.12,1001.37 1687.2,1004.39 1693.28,1007.39 1699.36,1010.37 1705.44,1013.35 1711.52,1016.3 1717.6,1019.24 1723.68,1022.16 1729.76,1025.06 1735.84,1027.95 1741.92,1030.82 1748,1033.67 1754.08,1036.5 1760.16,1039.31 1766.24,1042.11 1772.32,1044.89 1778.4,1047.64 1784.48,1050.39 1790.56,1053.11 1796.64,1055.81 1802.72,1058.5 1808.8,1061.17 1814.88,1063.82 1820.96,1066.45 1827.04,1069.06 1833.12,1071.66 1839.2,1074.24 1845.28,1076.8 1851.36,1079.34 1857.44,1081.87 1863.52,1084.38 1869.6,1086.87 1875.68,1089.34 1881.76,1091.8 1887.84,1094.24 1893.92,1096.67 1900,1099.08 1906.08,1101.47 1912.16,1103.85 1918.24,1106.21 1924.32,1108.56 1930.4,1110.89 1936.48,1113.2 1942.56,1115.5 1948.64,1117.79 1954.72,1120.06 1954.72,1273.42 1948.64,1271.15 1942.56,1268.86 1936.48,1266.56 1930.4,1264.25 1924.32,1261.92 1918.24,1259.57 1912.16,1257.21 1906.08,1254.83 1900,1252.44 1893.92,1250.03 1887.84,1247.6 1881.76,1245.16 1875.68,1242.7 1869.6,1240.23 1863.52,1237.74 1857.44,1235.23 1851.36,1232.7 1845.28,1230.16 1839.2,1227.6 1833.12,1225.02 1827.04,1222.42 1820.96,1219.81 1814.88,1217.18 1808.8,1214.53 1802.72,1211.86 1796.64,1209.17 1790.56,1206.47 1784.48,1203.75 1778.4,1201.01 1772.32,1198.25 1766.24,1195.47 1760.16,1192.67 1754.08,1189.86 1748,1187.03 1741.92,1184.18 1735.84,1181.31 1729.76,1178.42 1723.68,1175.52 1717.6,1172.6 1711.52,1169.66 1705.44,1166.71 1699.36,1163.74 1693.28,1160.75 1687.2,1157.75 1681.12,1154.73 1675.04,1151.7 1668.96,1148.66 1662.88,1145.6 1656.8,1142.53 1650.72,1139.45 1644.64,1136.37 1638.56,1133.27 1632.48,1130.17 1626.4,1127.07 1620.32,1123.96 1614.24,1120.85 1608.16,1117.74 1602.08,1114.64 1596,1111.54 1589.92,1108.46 1583.84,1105.39 1577.76,1102.33 1571.68,1099.3 1565.6,1096.29 1559.52,1093.31 1553.44,1090.37 1547.36,1087.47 1541.28,1084.62 1535.2,1081.82 1529.12,1079.08 1523.04,1076.41 1516.96,1073.82 1510.88,1071.32 1504.8,1068.91 1498.72,1066.61 1492.64,1064.42 1486.56,1062.36 1480.48,1060.44 1474.4,1058.67 1468.32,1057.07 1462.24,1055.65 1456.16,1054.42 1450.08,1053.39 1444,1052.58 1437.92,1052.01 1431.84,1051.69 1425.76,1051.62 1419.68,1051.84 1413.6,1052.34 1407.52,1053.14 1401.44,1054.25 1395.36,1055.68 1389.28,1057.44 1383.2,1059.55 1377.12,1062 1371.04,1064.8 1364.96,1067.96 1358.88,1071.49 1352.8,1075.37 1346.72,1079.63 1340.64,1084.25 1334.56,1089.24 1328.48,1094.59 1322.4,1100.32 1316.32,1106.41 1310.24,1112.87 1304.16,1119.7 1298.08,1126.89 1292,1134.46 1285.92,1142.41 1279.84,1150.73 1273.76,1159.44 1267.68,1168.55 1261.6,1178.06 1255.52,1187.98 1249.44,1198.35 1243.36,1209.16 1237.28,1220.45 1231.2,1232.24 1225.12,1244.57 1219.04,1257.46 1212.96,1270.97 1206.88,1285.13 1200.8,1300.02" fill="#008000" fill-opacity="0.3" stroke="#008000" stroke-opacity="0.3" stroke-width="2.3" stroke-linejoin="miter"/>
<polygon points="1200.8,1142.93 1206.88,1128.05 1212.96,1113.88 1219.04,1100.37 1225.12,1087.48 1231.2,1075.15 1237.28,1063.36 1243.36,1052.07 1249.44,1041.26 1255.52,1030.9 1261.6,1020.97 1267.68,1011.46 1273.76,1002.35 1279.84,993.64 1285.92,985.32 1292,977.37 1298.08,969.81 1304.16,962.61 1310.24,955.78 1316.32,949.32 1322.4,943.23 1328.48,937.5 1334.56,932.15 1340.64,927.16 1346.72,922.54 1352.8,918.29 1358.88,914.4 1364.96,910.87 1371.04,907.71 1377.12,904.91 1383.2,902.46 1389.28,900.36 1395.36,898.59 1401.44,897.16 1407.52,896.05 1413.6,895.25 1419.68,894.75 1425.76,894.54 1431.84,894.6 1437.92,894.92 1444,895.5 1450.08,896.3 1456.16,897.33 1462.24,898.56 1468.32,899.98 1474.4,901.59 1480.48,903.35 1486.56,905.27 1492.64,907.33 1498.72,909.52 1504.8,911.82 1510.88,914.23 1516.96,916.73 1523.04,919.32 1529.12,921.99 1535.2,924.73 1541.28,927.53 1547.36,930.38 1553.44,933.28 1559.52,936.23 1565.6,939.2 1571.68,942.21 1577.76,945.24 1583.84,948.3 1589.92,951.37 1596,954.46 1602.08,957.55 1608.16,960.65 1614.24,963.76 1620.32,966.87 1626.4,969.98 1632.48,973.08 1638.56,976.18 1644.64,979.28 1650.72,982.36 1656.8,985.44 1662.88,988.51 1668.96,991.57 1675.04,994.61 1681.12,997.64 1687.2,1000.66 1693.28,1003.66 1699.36,1006.65 1705.44,1009.62 1711.52,1012.57 1717.6,1015.51 1723.68,1018.43 1729.76,1021.33 1735.84,1024.22 1741.92,1027.09 1748,1029.94 1754.08,1032.77 1760.16,1035.58 1766.24,1038.38 1772.32,1041.16 1778.4,1043.92 1784.48,1046.66 1790.56,1049.38 1796.64,1052.08 1802.72,1054.77 1808.8,1057.44 1814.88,1060.09 1820.96,1062.72 1827.04,1065.33 1833.12,1067.93 1839.2,1070.51 1845.28,1073.07 1851.36,1075.61 1857.44,1078.14 1863.52,1080.65 1869.6,1083.14 1875.68,1085.61 1881.76,1088.07 1887.84,1090.51 1893.92,1092.94 1900,1095.35 1906.08,1097.74 1912.16,1100.12 1918.24,1102.48 1924.32,1104.83 1930.4,1107.16 1936.48,1109.47 1942.56,1111.77 1948.64,1114.06 1954.72,1116.33 1954.72,1269.69 1948.64,1267.42 1942.56,1265.13 1936.48,1262.83 1930.4,1260.52 1924.32,1258.19 1918.24,1255.84 1912.16,1253.48 1906.08,1251.1 1900,1248.71 1893.92,1246.3 1887.84,1243.88 1881.76,1241.43 1875.68,1238.97 1869.6,1236.5 1863.52,1234.01 1857.44,1231.5 1851.36,1228.97 1845.28,1226.43 1839.2,1223.87 1833.12,1221.29 1827.04,1218.69 1820.96,1216.08 1814.88,1213.45 1808.8,1210.8 1802.72,1208.13 1796.64,1205.44 1790.56,1202.74 1784.48,1200.02 1778.4,1197.28 1772.32,1194.52 1766.24,1191.74 1760.16,1188.95 1754.08,1186.13 1748,1183.3 1741.92,1180.45 1735.84,1177.58 1729.76,1174.69 1723.68,1171.79 1717.6,1168.87 1711.52,1165.93 1705.44,1162.98 1699.36,1160.01 1693.28,1157.02 1687.2,1154.02 1681.12,1151 1675.04,1147.97 1668.96,1144.93 1662.88,1141.87 1656.8,1138.8 1650.72,1135.72 1644.64,1132.64 1638.56,1129.54 1632.48,1126.44 1626.4,1123.34 1620.32,1120.23 1614.24,1117.12 1608.16,1114.01 1602.08,1110.91 1596,1107.82 1589.92,1104.73 1583.84,1101.66 1577.76,1098.6 1571.68,1095.57 1565.6,1092.56 1559.52,1089.59 1553.44,1086.64 1547.36,1083.74 1541.28,1080.89 1535.2,1078.09 1529.12,1075.35 1523.04,1072.69 1516.96,1070.09 1510.88,1067.59 1504.8,1065.18 1498.72,1062.88 1492.64,1060.69 1486.56,1058.63 1480.48,1056.71 1474.4,1054.95 1468.32,1053.34 1462.24,1051.92 1456.16,1050.69 1450.08,1049.66 1444,1048.86 1437.92,1048.28 1431.84,1047.96 1425.76,1047.9 1419.68,1048.11 1413.6,1048.61 1407.52,1049.41 1401.44,1050.52 1395.36,1051.95 1389.28,1053.72 1383.2,1055.82 1377.12,1058.27 1371.04,1061.07 1364.96,1064.24 1358.88,1067.76 1352.8,1071.65 1346.72,1075.9 1340.64,1080.52 1334.56,1085.51 1328.48,1090.87 1322.4,1096.59 1316.32,1102.68 1310.24,1109.14 1304.16,1115.97 1298.08,1123.17 1292,1130.73 1285.92,1138.68 1279.84,1147 1273.76,1155.71 1267.68,1164.82 1261.6,1174.33 1255.52,1184.26 1249.44,1194.62 1243.36,1205.43 1237.28,1216.72 1231.2,1228.51 1225.12,1240.84 1219.04,1253.73 1212.96,1267.24 1206.88,1281.41 1200.8,1296.29" fill="#008000" fill-opacity="0.3" stroke="#008000" stroke-opacity="0.3" stroke-width="2.3" stroke-linejoin="miter"/>
<polygon points="1200.8,1169.69 1206.88,1154.8 1212.96,1140.63 1219.04,1127.13 1225.12,1114.23 1231.2,1101.91 1237.28,1090.12 1243.36,1078.83 1249.44,1068.01 1255.52,1057.65 1261.6,1047.72 1267.68,1038.21 1273.76,1029.11 1279.84,1020.4 1285.92,1012.07 1292,1004.13 1298.08,996.56 1304.16,989.36 1310.24,982.54 1316.32,976.08 1322.4,969.98 1328.48,964.26 1334.56,958.9 1340.64,953.91 1346.72,949.29 1352.8,945.04 1358.88,941.15 1364.96,937.63 1371.04,934.47 1377.12,931.66 1383.2,929.21 1389.28,927.11 1395.36,925.35 1401.44,923.91 1407.52,922.8 1413.6,922 1419.68,921.5 1425.76,921.29 1431.84,921.35 1437.92,921.68 1444,922.25 1450.08,923.06 1456.16,924.08 1462.24,925.31 1468.32,926.74 1474.4,928.34 1480.48,930.11 1486.56,932.03 1492.64,934.08 1498.72,936.27 1504.8,938.57 1510.88,940.98 1516.96,943.49 1523.04,946.08 1529.12,948.75 1535.2,951.49 1541.28,954.28 1547.36,957.14 1553.44,960.04 1559.52,962.98 1565.6,965.96 1571.68,968.97 1577.76,972 1583.84,975.05 1589.92,978.13 1596,981.21 1602.08,984.31 1608.16,987.41 1614.24,990.51 1620.32,993.62 1626.4,996.73 1632.48,999.84 1638.56,1002.94 1644.64,1006.03 1650.72,1009.12 1656.8,1012.2 1662.88,1015.27 1668.96,1018.32 1675.04,1021.37 1681.12,1024.4 1687.2,1027.41 1693.28,1030.41 1699.36,1033.4 1705.44,1036.37 1711.52,1039.33 1717.6,1042.26 1723.68,1045.19 1729.76,1048.09 1735.84,1050.98 1741.92,1053.84 1748,1056.69 1754.08,1059.53 1760.16,1062.34 1766.24,1065.14 1772.32,1067.91 1778.4,1070.67 1784.48,1073.41 1790.56,1076.13 1796.64,1078.84 1802.72,1081.52 1808.8,1084.19 1814.88,1086.84 1820.96,1089.47 1827.04,1092.09 1833.12,1094.68 1839.2,1097.26 1845.28,1099.82 1851.36,1102.37 1857.44,1104.89 1863.52,1107.4 1869.6,1109.89 1875.68,1112.37 1881.76,1114.83 1887.84,1117.27 1893.92,1119.7 1900,1122.1 1906.08,1124.5 1912.16,1126.87 1918.24,1129.24 1924.32,1131.58 1930.4,1133.91 1936.48,1136.23 1942.56,1138.53 1948.64,1140.81 1954.72,1143.08 1954.72,1296.44 1948.64,1294.17 1942.56,1291.89 1936.48,1289.59 1930.4,1287.27 1924.32,1284.94 1918.24,1282.6 1912.16,1280.24 1906.08,1277.86 1900,1275.46 1893.92,1273.06 1887.84,1270.63 1881.76,1268.19 1875.68,1265.73 1869.6,1263.25 1863.52,1260.76 1857.44,1258.25 1851.36,1255.73 1845.28,1253.18 1839.2,1250.62 1833.12,1248.04 1827.04,1245.45 1820.96,1242.83 1814.88,1240.2 1808.8,1237.55 1802.72,1234.89 1796.64,1232.2 1790.56,1229.5 1784.48,1226.77 1778.4,1224.03 1772.32,1221.27 1766.24,1218.5 1760.16,1215.7 1754.08,1212.89 1748,1210.05 1741.92,1207.2 1735.84,1204.34 1729.76,1201.45 1723.68,1198.55 1717.6,1195.63 1711.52,1192.69 1705.44,1189.73 1699.36,1186.76 1693.28,1183.78 1687.2,1180.77 1681.12,1177.76 1675.04,1174.73 1668.96,1171.68 1662.88,1168.63 1656.8,1165.56 1650.72,1162.48 1644.64,1159.39 1638.56,1156.3 1632.48,1153.2 1626.4,1150.09 1620.32,1146.98 1614.24,1143.88 1608.16,1140.77 1602.08,1137.67 1596,1134.57 1589.92,1131.49 1583.84,1128.41 1577.76,1125.36 1571.68,1122.33 1565.6,1119.32 1559.52,1116.34 1553.44,1113.4 1547.36,1110.5 1541.28,1107.65 1535.2,1104.85 1529.12,1102.11 1523.04,1099.44 1516.96,1096.85 1510.88,1094.34 1504.8,1091.94 1498.72,1089.63 1492.64,1087.45 1486.56,1085.39 1480.48,1083.47 1474.4,1081.7 1468.32,1080.1 1462.24,1078.68 1456.16,1077.44 1450.08,1076.42 1444,1075.61 1437.92,1075.04 1431.84,1074.71 1425.76,1074.65 1419.68,1074.86 1413.6,1075.36 1407.52,1076.16 1401.44,1077.27 1395.36,1078.71 1389.28,1080.47 1383.2,1082.57 1377.12,1085.03 1371.04,1087.83 1364.96,1090.99 1358.88,1094.51 1352.8,1098.4 1346.72,1102.65 1340.64,1107.27 1334.56,1112.26 1328.48,1117.62 1322.4,1123.34 1316.32,1129.44 1310.24,1135.9 1304.16,1142.72 1298.08,1149.92 1292,1157.49 1285.92,1165.43 1279.84,1173.76 1273.76,1182.47 1267.68,1191.57 1261.6,1201.08 1255.52,1211.01 1249.44,1221.37 1243.36,1232.19 1237.28,1243.48 1231.2,1255.27 1225.12,1267.59 1219.04,1280.49 1212.96,1293.99 1206.88,1308.16 1200.8,1323.05" fill="#0000ff" fill-opacity="0.25" stroke="#0000ff" stroke-opacity="0.25" stroke-width="2.3" stroke-linejoin="miter"/>
<polygon points="1212.96,1236.68 1216.61,1219.28 1220.26,1201.33 1223.9,1183.66 1227.55,1167.08 1231.2,1152.42 1234.85,1139.41 1238.5,1127.25 1242.14,1115.94 1245.79,1105.5 1249.44,1095.92 1253.09,1087.24 1256.74,1079.5 1260.38,1072.84 1264.03,1067.12 1267.68,1062.19 1271.33,1057.91 1274.98,1054.11 1278.62,1050.68 1282.27,1047.97 1285.92,1045.95 1289.57,1044.45 1293.22,1043.28 1296.86,1042.27 1300.51,1041.23 1304.16,1040.25 1307.81,1039.49 1311.46,1038.9 1315.1,1038.46 1318.75,1038.11 1322.4,1037.82 1326.05,1037.56 1329.7,1037.38 1333.34,1037.29 1336.99,1037.29 1340.64,1037.38 1344.29,1037.56 1347.94,1037.82 1351.58,1038.2 1355.23,1038.68 1358.88,1039.24 1362.53,1039.87 1366.18,1040.54 1369.82,1041.23 1373.47,1041.98 1377.12,1042.8 1380.77,1043.67 1384.42,1044.57 1388.06,1045.47 1391.71,1046.34 1395.36,1047.17 1399.01,1047.97 1402.66,1048.77 1406.3,1049.56 1409.95,1050.37 1413.6,1051.2 1417.25,1052.06 1420.9,1052.93 1424.54,1053.82 1428.19,1054.73 1431.84,1055.66 1435.49,1056.62 1439.14,1057.62 1442.78,1058.67 1446.43,1059.79 1450.08,1060.94 1453.73,1062.09 1457.38,1063.22 1461.02,1064.3 1464.67,1065.3 1468.32,1066.24 1471.97,1067.14 1475.62,1068.02 1479.26,1068.91 1482.91,1069.84 1486.56,1070.83 1490.21,1071.89 1493.86,1072.98 1497.5,1074.11 1501.15,1075.23 1504.8,1076.34 1504.8,1223.11 1501.15,1221.71 1497.5,1220.32 1493.86,1218.92 1490.21,1217.52 1486.56,1216.1 1482.91,1214.65 1479.26,1213.18 1475.62,1211.7 1471.97,1210.22 1468.32,1208.73 1464.67,1207.24 1461.02,1205.76 1457.38,1204.26 1453.73,1202.75 1450.08,1201.25 1446.43,1199.76 1442.78,1198.3 1439.14,1196.89 1435.49,1195.54 1431.84,1194.26 1428.19,1193 1424.54,1191.75 1420.9,1190.48 1417.25,1189.16 1413.6,1187.76 1409.95,1186.29 1406.3,1184.78 1402.66,1183.26 1399.01,1181.75 1395.36,1180.28 1391.71,1178.88 1388.06,1177.53 1384.42,1176.23 1380.77,1174.95 1377.12,1173.69 1373.47,1172.42 1369.82,1171.14 1366.18,1169.81 1362.53,1168.44 1358.88,1167.06 1355.23,1165.71 1351.58,1164.45 1347.94,1163.3 1344.29,1162.29 1340.64,1161.38 1336.99,1160.55 1333.34,1159.81 1329.7,1159.16 1326.05,1158.6 1322.4,1158.12 1318.75,1157.69 1315.1,1157.33 1311.46,1157.06 1307.81,1156.92 1304.16,1156.92 1300.51,1157.1 1296.86,1157.39 1293.22,1157.75 1289.57,1158.24 1285.92,1158.94 1282.27,1159.92 1278.62,1161.25 1274.98,1162.93 1271.33,1164.84 1267.68,1167.01 1264.03,1169.51 1260.38,1172.38 1256.74,1175.69 1253.09,1179.47 1249.44,1183.53 1245.79,1187.92 1242.14,1192.74 1238.5,1198.1 1234.85,1204.13 1231.2,1210.94 1227.55,1219.1 1223.9,1228.72 1220.26,1239.18 1216.61,1249.84 1212.96,1260.09" fill="#ffff00" fill-opacity="0.5" stroke="#ffff00" stroke-opacity="0.5" stroke-width="2.3" stroke-linejoin="miter"/>
<polyline fill="none" stroke="#000" stroke-width="3.5" stroke-linecap="square" stroke-linejoin="round"  points="1200.8,1241.94 1206.88,1227.05 1212.96,1212.89 1219.04,1199.38 1225.12,1186.49 1231.2,1174.16 1237.28,1162.37 1243.36,1151.08 1249.44,1140.27 1255.52,1129.9 1261.6,1119.98 1267.68,1110.47 1273.76,1101.36 1279.84,1092.65 1285.92,1084.33 1292,1076.38 1298.08,1068.81 1304.16,1061.62 1310.24,1054.79 1316.32,1048.33 1322.4,1042.24 1328.48,1036.51 1334.56,1031.16 1340.64,1026.17 1346.72,1021.55 1352.8,1017.29 1358.88,1013.41 1364.96,1009.88 1371.04,1006.72 1377.12,1003.92 1383.2,1001.47 1389.28,999.36 1395.36,997.6 1401.44,996.17 1407.52,995.06 1413.6,994.26 1419.68,993.76 1425.76,993.54 1431.84,993.61 1437.92,993.93 1444,994.5 1450.08,995.31 1456.16,996.34 1462.24,997.57 1468.32,998.99 1474.4,1000.59 1480.48,1002.36 1486.56,1004.28 1492.64,1006.34 1498.72,1008.53 1504.8,1010.83 1510.88,1013.24 1516.96,1015.74 1523.04,1018.33 1529.12,1021 1535.2,1023.74 1541.28,1026.54 1547.36,1029.39 1553.44,1032.29 1559.52,1035.23 1565.6,1038.21 1571.68,1041.22 1577.76,1044.25 1583.84,1047.31 1589.92,1050.38 1596,1053.46 1602.08,1056.56 1608.16,1059.66 1614.24,1062.77 1620.32,1065.88 1626.4,1068.99 1632.48,1072.09 1638.56,1075.19 1644.64,1078.29 1650.72,1081.37 1656.8,1084.45 1662.88,1087.52 1668.96,1090.58 1675.04,1093.62 1681.12,1096.65 1687.2,1099.67 1693.28,1102.67 1699.36,1105.66 1705.44,1108.63 1711.52,1111.58 1717.6,1114.52 1723.68,1117.44 1729.76,1120.34 1735.84,1123.23 1741.92,1126.1 1748,1128.95 1754.08,1131.78 1760.16,1134.59 1766.24,1137.39 1772.32,1140.17 1778.4,1142.93 1784.48,1145.67 1790.56,1148.39 1796.64,1151.09 1802.72,1153.78 1808.8,1156.45 1814.88,1159.1 1820.96,1161.73 1827.04,1164.34 1833.12,1166.94 1839.2,1169.52 1845.28,1172.08 1851.36,1174.62 1857.44,1177.15 1863.52,1179.66 1869.6,1182.15 1875.68,1184.62 1881.76,1187.08 1887.84,1189.52 1893.92,1191.95 1900,1194.36 1906.08,1196.75 1912.16,1199.13 1918.24,1201.49 1924.32,1203.84 1930.4,1206.17 1936.48,1208.48 1942.56,1210.78 1948.64,1213.07 1954.72,1215.34"/>
<polyline fill="none" stroke="#ff0000" stroke-width="3.5" stroke-linecap="butt" stroke-linejoin="round" stroke-dasharray="12.9 5.6"  points="1200.8,1143.24 1206.88,1128.35 1212.96,1114.19 1219.04,1100.68 1225.12,1087.79 1231.2,1075.46 1237.28,1063.67 1243.36,1052.38 1249.44,1041.57 1255.52,1031.2 1261.6,1021.28 1267.68,1011.77 1273.76,1002.66 1279.84,993.95 1285.92,985.63 1292,977.68 1298.08,970.11 1304.16,962.92 1310.24,956.09 1316.32,949.63 1322.4,943.54 1328.48,937.81 1334.56,932.46 1340.64,927.47 1346.72,922.85 1352.8,918.59 1358.88,914.71 1364.96,911.18 1371.04,908.02 1377.12,905.22 1383.2,902.77 1389.28,900.66 1395.36,898.9 1401.44,897.47 1407.52,896.36 1413.6,895.56 1419.68,895.06 1425.76,894.84 1431.84,894.91 1437.92,895.23 1444,895.8 1450.08,896.61 1456.16,897.64 1462.24,898.87 1468.32,900.29 1474.4,901.89 1480.48,903.66 1486.56,905.58 1492.64,907.64 1498.72,909.83 1504.8,912.13 1510.88,914.54 1516.96,917.04 1523.04,919.63 1529.12,922.3 1535.2,925.04 1541.28,927.84 1547.36,930.69 1553.44,933.59 1559.52,936.53 1565.6,939.51 1571.68,942.52 1577.76,945.55 1583.84,948.61 1589.92,951.68 1596,954.76 1602.08,957.86 1608.16,960.96 1614.24,964.07 1620.32,967.18 1626.4,970.28 1632.48,973.39 1638.56,976.49 1644.64,979.59 1650.72,982.67 1656.8,985.75 1662.88,988.82 1668.96,991.87 1675.04,994.92 1681.12,997.95 1687.2,1000.97 1693.28,1003.97 1699.36,1006.96 1705.44,1009.93 1711.52,1012.88 1717.6,1015.82 1723.68,1018.74 1729.76,1021.64 1735.84,1024.53 1741.92,1027.4 1748,1030.25 1754.08,1033.08 1760.16,1035.89 1766.24,1038.69 1772.32,1041.47 1778.4,1044.23 1784.48,1046.97 1790.56,1049.69 1796.64,1052.39 1802.72,1055.08 1808.8,1057.75 1814.88,1060.4 1820.96,1063.03 1827.04,1065.64 1833.12,1068.24 1839.2,1070.82 1845.28,1073.38 1851.36,1075.92 1857.44,1078.45 1863.52,1080.96 1869.6,1083.45 1875.68,1085.92 1881.76,1088.38 1887.84,1090.82 1893.92,1093.25 1900,1095.66 1906.08,1098.05 1912.16,1100.43 1918.24,1102.79 1924.32,1105.14 1930.4,1107.47 1936.48,1109.78 1942.56,1112.08 1948.64,1114.37 1954.72,1116.64"/>
<polyline fill="none" stroke="#008000" stroke-width="3.5" stroke-linecap="square" stroke-linejoin="round"  points="1200.8,1256.17 1206.88,1241.29 1212.96,1227.12 1219.04,1213.61 1225.12,1200.72 1231.2,1188.39 1237.28,1176.6 1243.36,1165.31 1249.44,1154.5 1255.52,1144.14 1261.6,1134.21 1267.68,1124.7 1273.76,1115.59 1279.84,1106.88 1285.92,1098.56 1292,1090.61 1298.08,1083.04 1304.16,1075.85 1310.24,1069.02 1316.32,1062.56 1322.4,1056.47 1328.48,1050.74 1334.56,1045.39 1340.64,1040.4 1346.72,1035.78 1352.8,1031.52 1358.88,1027.64 1364.96,1024.11 1371.04,1020.95 1377.12,1018.15 1383.2,1015.7 1389.28,1013.59 1395.36,1011.83 1401.44,1010.4 1407.52,1009.29 1413.6,1008.49 1419.68,1007.99 1425.76,1007.78 1431.84,1007.84 1437.92,1008.16 1444,1008.74 1450.08,1009.54 1456.16,1010.57 1462.24,1011.8 1468.32,1013.22 1474.4,1014.82 1480.48,1016.59 1486.56,1018.51 1492.64,1020.57 1498.72,1022.76 1504.8,1025.06 1510.88,1027.47 1516.96,1029.97 1523.04,1032.56 1529.12,1035.23 1535.2,1037.97 1541.28,1040.77 1547.36,1043.62 1553.44,1046.52 1559.52,1049.46 1565.6,1052.44 1571.68,1055.45 1577.76,1058.48 1583.84,1061.54 1589.92,1064.61 1596,1067.69 1602.08,1070.79 1608.16,1073.89 1614.24,1077 1620.32,1080.11 1626.4,1083.22 1632.48,1086.32 1638.56,1089.42 1644.64,1092.52 1650.72,1095.6 1656.8,1098.68 1662.88,1101.75 1668.96,1104.81 1675.04,1107.85 1681.12,1110.88 1687.2,1113.9 1693.28,1116.9 1699.36,1119.89 1705.44,1122.86 1711.52,1125.81 1717.6,1128.75 1723.68,1131.67 1729.76,1134.57 1735.84,1137.46 1741.92,1140.33 1748,1143.18 1754.08,1146.01 1760.16,1148.82 1766.24,1151.62 1772.32,1154.4 1778.4,1157.16 1784.48,1159.9 1790.56,1162.62 1796.64,1165.32 1802.72,1168.01 1808.8,1170.68 1814.88,1173.33 1820.96,1175.96 1827.04,1178.57 1833.12,1181.17 1839.2,1183.75 1845.28,1186.31 1851.36,1188.85 1857.44,1191.38 1863.52,1193.89 1869.6,1196.38 1875.68,1198.85 1881.76,1201.31 1887.84,1203.75 1893.92,1206.18 1900,1208.59 1906.08,1210.98 1912.16,1213.36 1918.24,1215.72 1924.32,1218.07 1930.4,1220.4 1936.48,1222.71 1942.56,1225.01 1948.64,1227.3 1954.72,1229.57"/>
<polyline fill="none" stroke="#008000" stroke-width="3.5" stroke-linecap="butt" stroke-linejoin="round" stroke-dasharray="3.5 5.8"  points="1200.8,1252.44 1206.88,1237.56 1212.96,1223.39 1219.04,1209.88 1225.12,1196.99 1231.2,1184.67 1237.28,1172.87 1243.36,1161.58 1249.44,1150.77 1255.52,1140.41 1261.6,1130.48 1267.68,1120.97 1273.76,1111.86 1279.84,1103.15 1285.92,1094.83 1292,1086.89 1298.08,1079.32 1304.16,1072.12 1310.24,1065.29 1316.32,1058.83 1322.4,1052.74 1328.48,1047.02 1334.56,1041.66 1340.64,1036.67 1346.72,1032.05 1352.8,1027.8 1358.88,1023.91 1364.96,1020.39 1371.04,1017.22 1377.12,1014.42 1383.2,1011.97 1389.28,1009.87 1395.36,1008.1 1401.44,1006.67 1407.52,1005.56 1413.6,1004.76 1419.68,1004.26 1425.76,1004.05 1431.84,1004.11 1437.92,1004.43 1444,1005.01 1450.08,1005.81 1456.16,1006.84 1462.24,1008.07 1468.32,1009.49 1474.4,1011.1 1480.48,1012.86 1486.56,1014.78 1492.64,1016.84 1498.72,1019.03 1504.8,1021.33 1510.88,1023.74 1516.96,1026.25 1523.04,1028.84 1529.12,1031.5 1535.2,1034.24 1541.28,1037.04 1547.36,1039.89 1553.44,1042.79 1559.52,1045.74 1565.6,1048.71 1571.68,1051.72 1577.76,1054.76 1583.84,1057.81 1589.92,1060.88 1596,1063.97 1602.08,1067.06 1608.16,1070.16 1614.24,1073.27 1620.32,1076.38 1626.4,1079.49 1632.48,1082.59 1638.56,1085.69 1644.64,1088.79 1650.72,1091.88 1656.8,1094.95 1662.88,1098.02 1668.96,1101.08 1675.04,1104.12 1681.12,1107.15 1687.2,1110.17 1693.28,1113.17 1699.36,1116.16 1705.44,1119.13 1711.52,1122.08 1717.6,1125.02 1723.68,1127.94 1729.76,1130.85 1735.84,1133.73 1741.92,1136.6 1748,1139.45 1754.08,1142.28 1760.16,1145.1 1766.24,1147.89 1772.32,1150.67 1778.4,1153.43 1784.48,1156.17 1790.56,1158.89 1796.64,1161.6 1802.72,1164.28 1808.8,1166.95 1814.88,1169.6 1820.96,1172.23 1827.04,1174.84 1833.12,1177.44 1839.2,1180.02 1845.28,1182.58 1851.36,1185.12 1857.44,1187.65 1863.52,1190.16 1869.6,1192.65 1875.68,1195.13 1881.76,1197.58 1887.84,1200.03 1893.92,1202.45 1900,1204.86 1906.08,1207.25 1912.16,1209.63 1918.24,1211.99 1924.32,1214.34 1930.4,1216.67 1936.48,1218.98 1942.56,1221.28 1948.64,1223.57 1954.72,1225.84"/>
<polyline fill="none" stroke="#0000ff" stroke-width="3.5" stroke-linecap="butt" stroke-linejoin="round" stroke-dasharray="12.9 5.6"  points="1200.8,1279.2 1206.88,1264.31 1212.96,1250.15 1219.04,1236.64 1225.12,1223.75 1231.2,1211.42 1237.28,1199.63 1243.36,1188.34 1249.44,1177.52 1255.52,1167.16 1261.6,1157.23 1267.68,1147.72 1273.76,1138.62 1279.84,1129.91 1285.92,1121.58 1292,1113.64 1298.08,1106.07 1304.16,1098.87 1310.24,1092.05 1316.32,1085.59 1322.4,1079.5 1328.48,1073.77 1334.56,1068.41 1340.64,1063.43 1346.72,1058.8 1352.8,1054.55 1358.88,1050.66 1364.96,1047.14 1371.04,1043.98 1377.12,1041.18 1383.2,1038.73 1389.28,1036.62 1395.36,1034.86 1401.44,1033.42 1407.52,1032.31 1413.6,1031.51 1419.68,1031.01 1425.76,1030.8 1431.84,1030.86 1437.92,1031.19 1444,1031.76 1450.08,1032.57 1456.16,1033.59 1462.24,1034.83 1468.32,1036.25 1474.4,1037.85 1480.48,1039.62 1486.56,1041.54 1492.64,1043.6 1498.72,1045.78 1504.8,1048.09 1510.88,1050.5 1516.96,1053 1523.04,1055.59 1529.12,1058.26 1535.2,1061 1541.28,1063.8 1547.36,1066.65 1553.44,1069.55 1559.52,1072.49 1565.6,1075.47 1571.68,1078.48 1577.76,1081.51 1583.84,1084.56 1589.92,1087.64 1596,1090.72 1602.08,1093.82 1608.16,1096.92 1614.24,1100.03 1620.32,1103.13 1626.4,1106.24 1632.48,1109.35 1638.56,1112.45 1644.64,1115.54 1650.72,1118.63 1656.8,1121.71 1662.88,1124.78 1668.96,1127.83 1675.04,1130.88 1681.12,1133.91 1687.2,1136.92 1693.28,1139.93 1699.36,1142.91 1705.44,1145.88 1711.52,1148.84 1717.6,1151.78 1723.68,1154.7 1729.76,1157.6 1735.84,1160.49 1741.92,1163.35 1748,1166.2 1754.08,1169.04 1760.16,1171.85 1766.24,1174.65 1772.32,1177.42 1778.4,1180.18 1784.48,1182.92 1790.56,1185.65 1796.64,1188.35 1802.72,1191.04 1808.8,1193.7 1814.88,1196.35 1820.96,1198.99 1827.04,1201.6 1833.12,1204.2 1839.2,1206.77 1845.28,1209.33 1851.36,1211.88 1857.44,1214.4 1863.52,1216.91 1869.6,1219.41 1875.68,1221.88 1881.76,1224.34 1887.84,1226.78 1893.92,1229.21 1900,1231.62 1906.08,1234.01 1912.16,1236.39 1918.24,1238.75 1924.32,1241.09 1930.4,1243.42 1936.48,1245.74 1942.56,1248.04 1948.64,1250.32 1954.72,1252.59"/>
<polyline fill="none" stroke="#ffd700" stroke-width="3.5" stroke-linecap="butt" stroke-linejoin="round" stroke-opacity="0.7"  points="1212.96,1250.73 1216.61,1236.09 1220.26,1220.85 1223.9,1205.92 1227.55,1192.17 1231.2,1180.51 1234.85,1170.78 1238.5,1162.14 1242.14,1154.44 1245.79,1147.54 1249.44,1141.28 1253.09,1135.53 1256.74,1130.25 1260.38,1125.76 1264.03,1121.93 1267.68,1118.65 1271.33,1115.76 1274.98,1113.13 1278.62,1110.65 1282.27,1108.48 1285.92,1106.66 1289.57,1105.15 1293.22,1103.92 1296.86,1102.91 1300.51,1102.09 1304.16,1101.54 1307.81,1101.3 1311.46,1101.3 1315.1,1101.47 1318.75,1101.73 1322.4,1102.01 1326.05,1102.27 1329.7,1102.62 1333.34,1103.05 1336.99,1103.55 1340.64,1104.11 1344.29,1104.71 1347.94,1105.35 1351.58,1106.05 1355.23,1106.8 1358.88,1107.6 1362.53,1108.45 1366.18,1109.34 1369.82,1110.28 1373.47,1111.28 1377.12,1112.35 1380.77,1113.46 1384.42,1114.61 1388.06,1115.77 1391.71,1116.92 1395.36,1118.07 1399.01,1119.24 1402.66,1120.42 1406.3,1121.6 1409.95,1122.8 1413.6,1124 1417.25,1125.2 1420.9,1126.42 1424.54,1127.66 1428.19,1128.89 1431.84,1130.13 1435.49,1131.34 1439.14,1132.52 1442.78,1133.67 1446.43,1134.79 1450.08,1135.89 1453.73,1136.99 1457.38,1138.08 1461.02,1139.17 1464.67,1140.28 1468.32,1141.39 1471.97,1142.5 1475.62,1143.61 1479.26,1144.72 1482.91,1145.83 1486.56,1146.93 1490.21,1148.03 1493.86,1149.13 1497.5,1150.23 1501.15,1151.32 1504.8,1152.42"/>
</g>
<line x1="1200.8" y1="1363" x2="1200.8" y2="1371.95" stroke="#000" stroke-width="1.8" />
<text x="1200.8" y="1394.56" font-size="21.4" text-anchor="middle" fill="#1a1a1a" >0</text>
<line x1="1322.4" y1="1363" x2="1322.4" y2="1371.95" stroke="#000" stroke-width="1.8" />
<text x="1322.4" y="1394.56" font-size="21.4" text-anchor="middle" fill="#1a1a1a" >1</text>
<line x1="1444" y1="1363" x2="1444" y2="1371.95" stroke="#000" stroke-width="1.8" />
<text x="1444" y="1394.56" font-size="21.4" text-anchor="middle" fill="#1a1a1a" >2</text>
<line x1="1565.6" y1="1363" x2="1565.6" y2="1371.95" stroke="#000" stroke-width="1.8" />
<text x="1565.6" y="1394.56" font-size="21.4" text-anchor="middle" fill="#1a1a1a" >3</text>
<line x1="1687.2" y1="1363" x2="1687.2" y2="1371.95" stroke="#000" stroke-width="1.8" />
<text x="1687.2" y="1394.56" font-size="21.4" text-anchor="middle" fill="#1a1a1a" >4</text>
<line x1="1808.8" y1="1363" x2="1808.8" y2="1371.95" stroke="#000" stroke-width="1.8" />
<text x="1808.8" y="1394.56" font-size="21.4" text-anchor="middle" fill="#1a1a1a" >5</text>
<line x1="1930.4" y1="1363" x2="1930.4" y2="1371.95" stroke="#000" stroke-width="1.8" />
<text x="1930.4" y="1394.56" font-size="21.4" text-anchor="middle" fill="#1a1a1a" >6</text>
<line x1="1156.25" y1="1348.08" x2="1161.8" y2="1348.08" stroke="#000" stroke-width="1.4" />
<line x1="1156.25" y1="1322.71" x2="1161.8" y2="1322.71" stroke="#000" stroke-width="1.4" />
<line x1="1156.25" y1="1301.98" x2="1161.8" y2="1301.98" stroke="#000" stroke-width="1.4" />
<line x1="1156.25" y1="1284.45" x2="1161.8" y2="1284.45" stroke="#000" stroke-width="1.4" />
<line x1="1156.25" y1="1269.27" x2="1161.8" y2="1269.27" stroke="#000" stroke-width="1.4" />
<line x1="1156.25" y1="1255.88" x2="1161.8" y2="1255.88" stroke="#000" stroke-width="1.4" />
<line x1="1152.85" y1="1243.9" x2="1161.8" y2="1243.9" stroke="#000" stroke-width="1.8" />
<line x1="1156.25" y1="1165.09" x2="1161.8" y2="1165.09" stroke="#000" stroke-width="1.4" />
<line x1="1156.25" y1="1118.99" x2="1161.8" y2="1118.99" stroke="#000" stroke-width="1.4" />
<line x1="1156.25" y1="1086.28" x2="1161.8" y2="1086.28" stroke="#000" stroke-width="1.4" />
<line x1="1156.25" y1="1060.91" x2="1161.8" y2="1060.91" stroke="#000" stroke-width="1.4" />
<line x1="1156.25" y1="1040.18" x2="1161.8" y2="1040.18" stroke="#000" stroke-width="1.4" />
<line x1="1156.25" y1="1022.65" x2="1161.8" y2="1022.65" stroke="#000" stroke-width="1.4" />
<line x1="1156.25" y1="1007.47" x2="1161.8" y2="1007.47" stroke="#000" stroke-width="1.4" />
<line x1="1156.25" y1="994.08" x2="1161.8" y2="994.08" stroke="#000" stroke-width="1.4" />
<line x1="1152.85" y1="982.1" x2="1161.8" y2="982.1" stroke="#000" stroke-width="1.8" />
<line x1="1156.25" y1="903.29" x2="1161.8" y2="903.29" stroke="#000" stroke-width="1.4" />
<line x1="1156.25" y1="857.19" x2="1161.8" y2="857.19" stroke="#000" stroke-width="1.4" />
<line x1="1156.25" y1="824.48" x2="1161.8" y2="824.48" stroke="#000" stroke-width="1.4" />
<line x1="1156.25" y1="799.11" x2="1161.8" y2="799.11" stroke="#000" stroke-width="1.4" />
<line x1="1156.25" y1="778.38" x2="1161.8" y2="778.38" stroke="#000" stroke-width="1.4" />
<line x1="1156.25" y1="760.85" x2="1161.8" y2="760.85" stroke="#000" stroke-width="1.4" />
<line x1="1156.25" y1="745.67" x2="1161.8" y2="745.67" stroke="#000" stroke-width="1.4" />
<line x1="1156.25" y1="732.28" x2="1161.8" y2="732.28" stroke="#000" stroke-width="1.4" />
<line x1="1152.85" y1="720.3" x2="1161.8" y2="720.3" stroke="#000" stroke-width="1.8" />
<line x1="1156.25" y1="641.49" x2="1161.8" y2="641.49" stroke="#000" stroke-width="1.4" />
<line x1="1156.25" y1="595.39" x2="1161.8" y2="595.39" stroke="#000" stroke-width="1.4" />
<line x1="1156.25" y1="562.68" x2="1161.8" y2="562.68" stroke="#000" stroke-width="1.4" />
<line x1="1156.25" y1="537.31" x2="1161.8" y2="537.31" stroke="#000" stroke-width="1.4" />
<line x1="1156.25" y1="516.58" x2="1161.8" y2="516.58" stroke="#000" stroke-width="1.4" />
<line x1="1156.25" y1="499.05" x2="1161.8" y2="499.05" stroke="#000" stroke-width="1.4" />
<text transform="translate(1143.3,1252.7) scale(1.0000,1)" font-size="22" text-anchor="end" fill="#1a1a1a">10<tspan font-size="15.4" dy="-9.24" dx="0.8">−4</tspan></text>
<text transform="translate(1143.3,990.9) scale(1.0000,1)" font-size="22" text-anchor="end" fill="#1a1a1a">10<tspan font-size="15.4" dy="-9.24" dx="0.8">−3</tspan></text>
<text transform="translate(1143.3,729.1) scale(1.0000,1)" font-size="22" text-anchor="end" fill="#1a1a1a">10<tspan font-size="15.4" dy="-9.24" dx="0.8">−2</tspan></text>
<text x="1572.2" y="1424.5" font-size="22" text-anchor="middle" fill="#1a1a1a" >z</text>
<text transform="translate(1072.5,926.1) rotate(-90)" font-size="21.9" text-anchor="middle" fill="#1a1a1a"><tspan font-style="italic">R</tspan><tspan font-size="15.33" dy="4">CC</tspan><tspan dy="-4"> (yr</tspan><tspan font-size="15.33" dy="-8">−1</tspan><tspan dy="8">Mpc</tspan><tspan font-size="15.33" dy="-8">−3</tspan><tspan dy="8">)</tspan></text>
<rect x="1259.6" y="503.5" width="710.8" height="221.5" rx="4.5" ry="4.5" fill="#fff" fill-opacity="0.8" stroke="#ccc" stroke-width="2.2"/>
<line x1="1268.9" y1="523.1" x2="1314.9" y2="523.1" stroke="#000" stroke-width="3.5" stroke-linecap="square"/>
<line x1="1268.9" y1="560" x2="1314.9" y2="560" stroke="#ff0000" stroke-width="3.5" stroke-dasharray="12.9 5.6"/>
<line x1="1268.9" y1="597.1" x2="1314.9" y2="597.1" stroke="#008000" stroke-width="3.5" stroke-linecap="square"/>
<line x1="1268.9" y1="633.8" x2="1314.9" y2="633.8" stroke="#008000" stroke-width="3.5" stroke-dasharray="3.5 5.8"/>
<line x1="1268.9" y1="670.5" x2="1314.9" y2="670.5" stroke="#0000ff" stroke-width="3.5" stroke-dasharray="12.9 5.6"/>
<line x1="1268.9" y1="704.6" x2="1314.9" y2="704.6" stroke="#ffd700" stroke-width="3.5" stroke-opacity="0.7" stroke-linecap="square"/>
<text transform="translate(1333.47,530.6) scale(1.0300,1)" font-size="22.4" fill="#1a1a1a" font-style="italic">k</text>
<text transform="translate(1346.47,534.6) scale(1.0300,1)" font-size="15.68" fill="#1a1a1a" >CC</text>
<text transform="translate(1374.48,530.6) scale(1.0300,1)" font-size="22.4" fill="#1a1a1a" >=</text>
<text transform="translate(1397.22,530.6) scale(1.0262,1)" font-size="22.4" fill="#1a1a1a" >0.0068</text>
<text transform="translate(1485.37,530.6) scale(1.0300,1)" font-size="22.4" fill="#1a1a1a" font-style="italic">M</text>
<text transform="translate(1508.08,522.3) scale(1.0300,1)" font-size="15.68" fill="#1a1a1a" >−1</text>
<text transform="translate(1508.52,536.9) scale(1.0300,1)" font-size="15.68" fill="#1a1a1a" >⊙</text>
<text transform="translate(1539.13,530.6) scale(1.0386,1)" font-size="22.4" fill="#1a1a1a" >and</text>
<text transform="translate(1589.11,530.6) scale(1.0300,1)" font-size="22.4" fill="#1a1a1a" font-style="italic" stroke="#1a1a1a" stroke-width="0.55">ψ</text>
<text transform="translate(1612.39,530.6) scale(1.0293,1)" font-size="22.4" fill="#1a1a1a" >from the analysis of the CSFH</text>
<text transform="translate(1333.47,567.5) scale(1.0300,1)" font-size="22.4" fill="#1a1a1a" font-style="italic">k</text>
<text transform="translate(1346.47,571.5) scale(1.0300,1)" font-size="15.68" fill="#1a1a1a" >CC</text>
<text transform="translate(1374.48,567.5) scale(1.0300,1)" font-size="22.4" fill="#1a1a1a" >=</text>
<text transform="translate(1397.21,567.5) scale(1.0359,1)" font-size="22.4" fill="#1a1a1a" >0.0162</text>
<text transform="translate(1485.37,567.5) scale(1.0300,1)" font-size="22.4" fill="#1a1a1a" font-style="italic">M</text>
<text transform="translate(1508.08,559.2) scale(1.0300,1)" font-size="15.68" fill="#1a1a1a" >−1</text>
<text transform="translate(1508.52,573.8) scale(1.0300,1)" font-size="15.68" fill="#1a1a1a" >⊙</text>
<text transform="translate(1530.82,567.5) scale(1.0300,1)" font-size="22.4" fill="#1a1a1a" >,</text>
<text transform="translate(1545.96,567.5) scale(1.0150,1)" font-size="22.4" fill="#1a1a1a" >for</text>
<text transform="translate(1586.17,567.5) scale(1.0300,1)" font-size="22.4" fill="#1a1a1a" font-style="italic" stroke="#1a1a1a" stroke-width="0.55">λ</text>
<text transform="translate(1598.96,571.5) scale(1.0300,1)" font-size="15.68" fill="#1a1a1a" font-style="italic">V</text>
<text transform="translate(1614.44,567.5) scale(1.0300,1)" font-size="22.4" fill="#1a1a1a" >=</text>
<text transform="translate(1638.12,567.5) scale(1.0449,1)" font-size="22.4" fill="#1a1a1a" >0.187</text>
<text transform="translate(1711.63,567.5) scale(1.0488,1)" font-size="22.4" fill="#1a1a1a" >and</text>
<text transform="translate(1762.99,567.5) scale(1.0300,1)" font-size="22.4" fill="#1a1a1a" font-style="italic">R</text>
<text transform="translate(1778.41,571.5) scale(1.0300,1)" font-size="15.68" fill="#1a1a1a" font-style="italic">V</text>
<text transform="translate(1793.89,567.5) scale(1.0300,1)" font-size="22.4" fill="#1a1a1a" >=</text>
<text transform="translate(1817.99,567.5) scale(1.0461,1)" font-size="22.4" fill="#1a1a1a" >4.05</text>
<text transform="translate(1333.47,604.6) scale(1.0300,1)" font-size="22.4" fill="#1a1a1a" font-style="italic">k</text>
<text transform="translate(1346.47,608.6) scale(1.0300,1)" font-size="15.68" fill="#1a1a1a" >CC</text>
<text transform="translate(1374.48,604.6) scale(1.0300,1)" font-size="22.4" fill="#1a1a1a" >=</text>
<text transform="translate(1397.22,604.6) scale(1.0256,1)" font-size="22.4" fill="#1a1a1a" >0.0060</text>
<text transform="translate(1485.37,604.6) scale(1.0300,1)" font-size="22.4" fill="#1a1a1a" font-style="italic">M</text>
<text transform="translate(1508.08,596.3) scale(1.0300,1)" font-size="15.68" fill="#1a1a1a" >−1</text>
<text transform="translate(1508.52,610.9) scale(1.0300,1)" font-size="15.68" fill="#1a1a1a" >⊙</text>
<text transform="translate(1530.82,604.6) scale(1.0300,1)" font-size="22.4" fill="#1a1a1a" >,</text>
<text transform="translate(1545.96,604.6) scale(1.0150,1)" font-size="22.4" fill="#1a1a1a" >for</text>
<text transform="translate(1586.17,604.6) scale(1.0300,1)" font-size="22.4" fill="#1a1a1a" font-style="italic" stroke="#1a1a1a" stroke-width="0.55">λ</text>
<text transform="translate(1598.96,608.6) scale(1.0300,1)" font-size="15.68" fill="#1a1a1a" font-style="italic">V</text>
<text transform="translate(1614.44,604.6) scale(1.0300,1)" font-size="22.4" fill="#1a1a1a" >=</text>
<text transform="translate(1638.12,604.6) scale(1.0300,1)" font-size="22.4" fill="#1a1a1a" >1</text>
<text transform="translate(1661.06,604.6) scale(1.0488,1)" font-size="22.4" fill="#1a1a1a" >and</text>
<text transform="translate(1711.43,604.6) scale(1.0300,1)" font-size="22.4" fill="#1a1a1a" font-style="italic">R</text>
<text transform="translate(1727.84,608.6) scale(1.0300,1)" font-size="15.68" fill="#1a1a1a" font-style="italic">V</text>
<text transform="translate(1743.32,604.6) scale(1.0300,1)" font-size="22.4" fill="#1a1a1a" >=</text>
<text transform="translate(1767.03,604.6) scale(1.0461,1)" font-size="22.4" fill="#1a1a1a" >4.05</text>
<text transform="translate(1333.47,641.3) scale(1.0300,1)" font-size="22.4" fill="#1a1a1a" font-style="italic">k</text>
<text transform="translate(1346.47,645.3) scale(1.0300,1)" font-size="15.68" fill="#1a1a1a" >CC</text>
<text transform="translate(1374.48,641.3) scale(1.0300,1)" font-size="22.4" fill="#1a1a1a" >=</text>
<text transform="translate(1397.21,641.3) scale(1.0359,1)" font-size="22.4" fill="#1a1a1a" >0.0062</text>
<text transform="translate(1485.37,641.3) scale(1.0300,1)" font-size="22.4" fill="#1a1a1a" font-style="italic">M</text>
<text transform="translate(1508.08,633) scale(1.0300,1)" font-size="15.68" fill="#1a1a1a" >−1</text>
<text transform="translate(1508.52,647.6) scale(1.0300,1)" font-size="15.68" fill="#1a1a1a" >⊙</text>
<text transform="translate(1530.82,641.3) scale(1.0300,1)" font-size="22.4" fill="#1a1a1a" >,</text>
<text transform="translate(1545.96,641.3) scale(1.0150,1)" font-size="22.4" fill="#1a1a1a" >for</text>
<text transform="translate(1586.17,641.3) scale(1.0300,1)" font-size="22.4" fill="#1a1a1a" font-style="italic" stroke="#1a1a1a" stroke-width="0.55">λ</text>
<text transform="translate(1598.96,645.3) scale(1.0300,1)" font-size="15.68" fill="#1a1a1a" font-style="italic">V</text>
<text transform="translate(1614.44,641.3) scale(1.0300,1)" font-size="22.4" fill="#1a1a1a" >=</text>
<text transform="translate(1638.12,641.3) scale(1.0300,1)" font-size="22.4" fill="#1a1a1a" >1</text>
<text transform="translate(1661.06,641.3) scale(1.0488,1)" font-size="22.4" fill="#1a1a1a" >and</text>
<text transform="translate(1711.43,641.3) scale(1.0300,1)" font-size="22.4" fill="#1a1a1a" font-style="italic">R</text>
<text transform="translate(1727.84,645.3) scale(1.0300,1)" font-size="15.68" fill="#1a1a1a" font-style="italic">V</text>
<text transform="translate(1743.32,641.3) scale(1.0300,1)" font-size="22.4" fill="#1a1a1a" >=</text>
<text transform="translate(1766.81,641.3) scale(1.0274,1)" font-size="22.4" fill="#1a1a1a" >3.1</text>
<text transform="translate(1333.47,678) scale(1.0300,1)" font-size="22.4" fill="#1a1a1a" font-style="italic">k</text>
<text transform="translate(1346.47,682) scale(1.0300,1)" font-size="15.68" fill="#1a1a1a" >CC</text>
<text transform="translate(1374.48,678) scale(1.0300,1)" font-size="22.4" fill="#1a1a1a" >=</text>
<text transform="translate(1397.22,678) scale(1.0268,1)" font-size="22.4" fill="#1a1a1a" >0.0049</text>
<text transform="translate(1485.37,678) scale(1.0300,1)" font-size="22.4" fill="#1a1a1a" font-style="italic">M</text>
<text transform="translate(1508.08,669.7) scale(1.0300,1)" font-size="15.68" fill="#1a1a1a" >−1</text>
<text transform="translate(1508.52,684.3) scale(1.0300,1)" font-size="15.68" fill="#1a1a1a" >⊙</text>
<text transform="translate(1530.82,678) scale(1.0300,1)" font-size="22.4" fill="#1a1a1a" >,</text>
<text transform="translate(1545.96,678) scale(1.0150,1)" font-size="22.4" fill="#1a1a1a" >for</text>
<text transform="translate(1586.17,678) scale(1.0300,1)" font-size="22.4" fill="#1a1a1a" font-style="italic" stroke="#1a1a1a" stroke-width="0.55">λ</text>
<text transform="translate(1598.96,682) scale(1.0300,1)" font-size="15.68" fill="#1a1a1a" font-style="italic">V</text>
<text transform="translate(1614.44,678) scale(1.0300,1)" font-size="22.4" fill="#1a1a1a" >=</text>
<text transform="translate(1638.96,678) scale(1.0300,1)" font-size="22.4" fill="#1a1a1a" >2</text>
<text transform="translate(1661.06,678) scale(1.0488,1)" font-size="22.4" fill="#1a1a1a" >and</text>
<text transform="translate(1711.43,678) scale(1.0300,1)" font-size="22.4" fill="#1a1a1a" font-style="italic">R</text>
<text transform="translate(1727.84,682) scale(1.0300,1)" font-size="15.68" fill="#1a1a1a" font-style="italic">V</text>
<text transform="translate(1743.32,678) scale(1.0300,1)" font-size="22.4" fill="#1a1a1a" >=</text>
<text transform="translate(1767.03,678) scale(1.0461,1)" font-size="22.4" fill="#1a1a1a" >4.05</text>
<text transform="translate(1332.04,712.1) scale(1.0284,1)" font-size="22.4" fill="#1a1a1a" >Best-fit result from the CANDELS+CLASH analysis</text>
<text x="1049.8" y="517.3" font-size="32.7" font-weight="bold" fill="#000">e</text>
</svg></body></html>
